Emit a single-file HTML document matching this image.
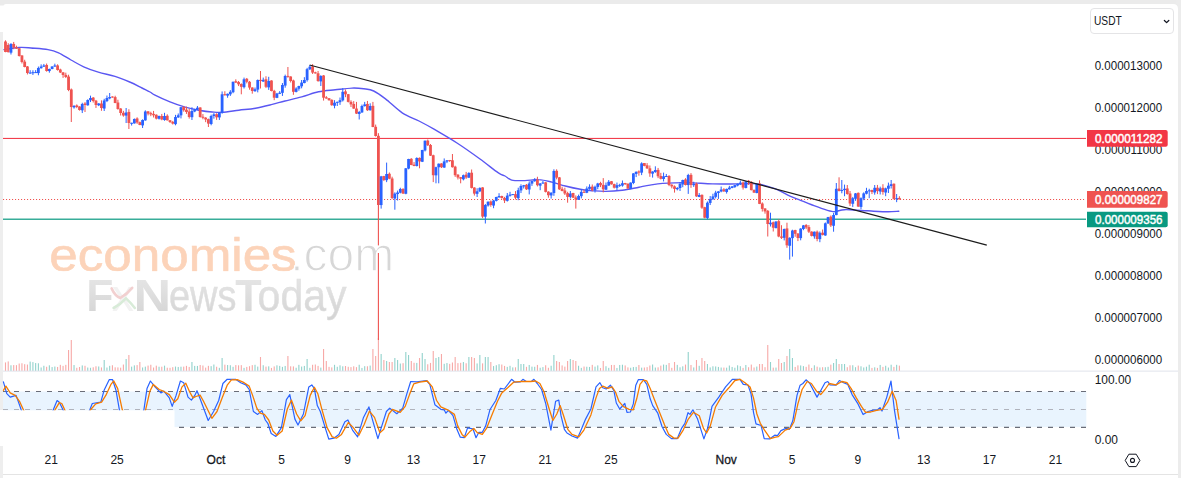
<!DOCTYPE html><html><head><meta charset="utf-8"><title>Chart</title><style>html,body{margin:0;padding:0;background:#fff;overflow:hidden}svg{display:block}</style></head><body><svg width="1181" height="478" viewBox="0 0 1181 478" font-family="'Liberation Sans', sans-serif">
<defs><linearGradient id="gg" x1="0" y1="0" x2="0" y2="1"><stop offset="0" stop-color="#e8e8e8"/><stop offset="1" stop-color="#d3d3d3"/></linearGradient></defs>
<rect x="0" y="0" width="1181" height="478" fill="#ffffff"/>
<rect x="0" y="0" width="1181" height="9" fill="#ebebeb"/>
<rect x="1176" y="0" width="5" height="478" fill="#ececec"/>
<path d="M0 5.5 L3.5 5.5 Q4 4 6 4 L1173 4 Q1178 4 1178 9 L1178 478 L0 478 Z" fill="#ffffff"/>
<rect x="0" y="32" width="3" height="378" fill="#eeeeee"/>
<rect x="0" y="446" width="3" height="32" fill="#eeeeee"/>
<defs><filter id="bl" x="-5%" y="-20%" width="110%" height="140%"><feGaussianBlur stdDeviation="0.55"/></filter><clipPath id="wmclip"><rect x="40" y="225" width="360" height="46.6"/></clipPath></defs>
<g filter="url(#bl)">
<g clip-path="url(#wmclip)">
<text y="270.9" font-size="48"><tspan x="49.3" font-size="46.5" textLength="247.4" lengthAdjust="spacingAndGlyphs" fill="#fcd3b9" stroke="#fcd3b9" stroke-width="0.6">economies</tspan><tspan x="290.3" textLength="103.9" lengthAdjust="spacingAndGlyphs" fill="#d7d7d7" stroke="#ffffff" stroke-width="1.3">.com</tspan></text>
</g>
<text y="311.3" font-size="44.5" fill="url(#gg)"><tspan x="86.3" font-weight="bold">F</tspan><tspan x="112" fill="#f2f2f2" textLength="22" lengthAdjust="spacingAndGlyphs">x</tspan><tspan x="133.4" font-weight="bold" textLength="37.6" lengthAdjust="spacingAndGlyphs">N</tspan><tspan x="169" textLength="67.5" lengthAdjust="spacingAndGlyphs" stroke="#dedede" stroke-width="0.5">ews</tspan><tspan x="235.2" font-weight="bold" textLength="26.4" lengthAdjust="spacingAndGlyphs">T</tspan><tspan x="257.6" textLength="89" lengthAdjust="spacingAndGlyphs" stroke="#dedede" stroke-width="0.5">oday</tspan></text>
<path d="M111.6 288.4 Q115 296 120.3 298 Q127 294 132.2 287.8" stroke="#f2d0d0" stroke-width="2.6" fill="none" stroke-linecap="round"/>
<path d="M113.6 308 Q121 304 126 298.4 Q131 303 134.8 308" stroke="#d8ebd8" stroke-width="2.6" fill="none" stroke-linecap="round"/>
</g>
<rect x="3" y="137.9" width="1083" height="1.05" fill="#f23645"/>
<line x1="3" y1="199.5" x2="1085" y2="199.5" stroke="#ef5350" stroke-width="1.2" stroke-dasharray="1.1 1.9"/>
<rect x="3" y="218.6" width="1083" height="1.2" fill="#089981"/>
<rect x="4.94" y="362.43" width="1.1" height="8.57" fill="#f7a9a7"/><rect x="7.68" y="361.42" width="1.1" height="9.58" fill="#f7a9a7"/><rect x="10.42" y="365.27" width="1.1" height="5.73" fill="#92d2cc"/><rect x="13.16" y="365.08" width="1.1" height="5.92" fill="#f7a9a7"/><rect x="15.90" y="365.15" width="1.1" height="5.85" fill="#f7a9a7"/><rect x="18.65" y="363.53" width="1.1" height="7.47" fill="#f7a9a7"/><rect x="21.39" y="363.26" width="1.1" height="7.74" fill="#f7a9a7"/><rect x="24.13" y="364.17" width="1.1" height="6.83" fill="#f7a9a7"/><rect x="26.87" y="364.55" width="1.1" height="6.45" fill="#f7a9a7"/><rect x="29.61" y="361.58" width="1.1" height="9.42" fill="#92d2cc"/><rect x="32.36" y="362.11" width="1.1" height="8.89" fill="#92d2cc"/><rect x="35.10" y="363.04" width="1.1" height="7.96" fill="#92d2cc"/><rect x="37.84" y="363.27" width="1.1" height="7.73" fill="#92d2cc"/><rect x="40.58" y="367.47" width="1.1" height="3.53" fill="#92d2cc"/><rect x="43.32" y="365.76" width="1.1" height="5.24" fill="#92d2cc"/><rect x="46.07" y="366.76" width="1.1" height="4.24" fill="#f7a9a7"/><rect x="48.81" y="365.31" width="1.1" height="5.69" fill="#92d2cc"/><rect x="51.55" y="367.06" width="1.1" height="3.94" fill="#92d2cc"/><rect x="54.29" y="366.53" width="1.1" height="4.47" fill="#92d2cc"/><rect x="57.03" y="366.96" width="1.1" height="4.04" fill="#f7a9a7"/><rect x="59.78" y="364.84" width="1.1" height="6.16" fill="#f7a9a7"/><rect x="62.52" y="365.84" width="1.1" height="5.16" fill="#f7a9a7"/><rect x="65.26" y="364.83" width="1.1" height="6.17" fill="#f7a9a7"/><rect x="68.00" y="350.00" width="1.1" height="21.00" fill="#f7a9a7"/><rect x="70.74" y="340.00" width="1.1" height="31.00" fill="#f7a9a7"/><rect x="73.49" y="365.04" width="1.1" height="5.96" fill="#92d2cc"/><rect x="76.23" y="367.79" width="1.1" height="3.21" fill="#f7a9a7"/><rect x="78.97" y="367.00" width="1.1" height="4.00" fill="#f7a9a7"/><rect x="81.71" y="365.41" width="1.1" height="5.59" fill="#92d2cc"/><rect x="84.45" y="365.79" width="1.1" height="5.21" fill="#f7a9a7"/><rect x="87.20" y="367.53" width="1.1" height="3.47" fill="#92d2cc"/><rect x="89.94" y="367.78" width="1.1" height="3.22" fill="#92d2cc"/><rect x="92.68" y="367.27" width="1.1" height="3.73" fill="#f7a9a7"/><rect x="95.42" y="366.28" width="1.1" height="4.72" fill="#f7a9a7"/><rect x="98.16" y="366.46" width="1.1" height="4.54" fill="#92d2cc"/><rect x="100.91" y="367.44" width="1.1" height="3.56" fill="#f7a9a7"/><rect x="103.65" y="360.00" width="1.1" height="11.00" fill="#92d2cc"/><rect x="106.39" y="367.52" width="1.1" height="3.48" fill="#92d2cc"/><rect x="109.13" y="365.82" width="1.1" height="5.18" fill="#92d2cc"/><rect x="111.87" y="365.24" width="1.1" height="5.76" fill="#f7a9a7"/><rect x="114.62" y="367.32" width="1.1" height="3.68" fill="#f7a9a7"/><rect x="117.36" y="367.39" width="1.1" height="3.61" fill="#f7a9a7"/><rect x="120.10" y="367.66" width="1.1" height="3.34" fill="#f7a9a7"/><rect x="122.84" y="364.53" width="1.1" height="6.47" fill="#f7a9a7"/><rect x="125.58" y="359.00" width="1.1" height="12.00" fill="#92d2cc"/><rect x="128.33" y="355.00" width="1.1" height="16.00" fill="#f7a9a7"/><rect x="131.07" y="366.65" width="1.1" height="4.35" fill="#92d2cc"/><rect x="133.81" y="365.37" width="1.1" height="5.63" fill="#92d2cc"/><rect x="136.55" y="365.07" width="1.1" height="5.93" fill="#f7a9a7"/><rect x="139.29" y="362.00" width="1.1" height="9.00" fill="#f7a9a7"/><rect x="142.04" y="367.46" width="1.1" height="3.54" fill="#92d2cc"/><rect x="144.78" y="366.64" width="1.1" height="4.36" fill="#92d2cc"/><rect x="147.52" y="365.57" width="1.1" height="5.43" fill="#f7a9a7"/><rect x="150.26" y="364.74" width="1.1" height="6.26" fill="#f7a9a7"/><rect x="153.00" y="367.52" width="1.1" height="3.48" fill="#f7a9a7"/><rect x="155.75" y="365.65" width="1.1" height="5.35" fill="#f7a9a7"/><rect x="158.49" y="366.74" width="1.1" height="4.26" fill="#92d2cc"/><rect x="161.23" y="366.71" width="1.1" height="4.29" fill="#f7a9a7"/><rect x="163.97" y="365.66" width="1.1" height="5.34" fill="#92d2cc"/><rect x="166.71" y="367.72" width="1.1" height="3.28" fill="#f7a9a7"/><rect x="169.46" y="367.81" width="1.1" height="3.19" fill="#f7a9a7"/><rect x="172.20" y="367.17" width="1.1" height="3.83" fill="#f7a9a7"/><rect x="174.94" y="366.56" width="1.1" height="4.44" fill="#92d2cc"/><rect x="177.68" y="366.95" width="1.1" height="4.05" fill="#92d2cc"/><rect x="180.42" y="366.71" width="1.1" height="4.29" fill="#92d2cc"/><rect x="183.17" y="366.61" width="1.1" height="4.39" fill="#f7a9a7"/><rect x="185.91" y="365.86" width="1.1" height="5.14" fill="#f7a9a7"/><rect x="188.65" y="366.92" width="1.1" height="4.08" fill="#f7a9a7"/><rect x="191.39" y="362.00" width="1.1" height="9.00" fill="#92d2cc"/><rect x="194.13" y="365.89" width="1.1" height="5.11" fill="#92d2cc"/><rect x="196.88" y="365.93" width="1.1" height="5.07" fill="#92d2cc"/><rect x="199.62" y="364.99" width="1.1" height="6.01" fill="#f7a9a7"/><rect x="202.36" y="365.50" width="1.1" height="5.50" fill="#f7a9a7"/><rect x="205.10" y="367.60" width="1.1" height="3.40" fill="#f7a9a7"/><rect x="207.84" y="365.83" width="1.1" height="5.17" fill="#f7a9a7"/><rect x="210.59" y="366.15" width="1.1" height="4.85" fill="#92d2cc"/><rect x="213.33" y="364.51" width="1.1" height="6.49" fill="#92d2cc"/><rect x="216.07" y="366.74" width="1.1" height="4.26" fill="#f7a9a7"/><rect x="218.81" y="367.82" width="1.1" height="3.18" fill="#92d2cc"/><rect x="221.55" y="358.00" width="1.1" height="13.00" fill="#92d2cc"/><rect x="224.30" y="364.65" width="1.1" height="6.35" fill="#f7a9a7"/><rect x="227.04" y="365.02" width="1.1" height="5.98" fill="#92d2cc"/><rect x="229.78" y="365.22" width="1.1" height="5.78" fill="#92d2cc"/><rect x="232.52" y="366.81" width="1.1" height="4.19" fill="#92d2cc"/><rect x="235.26" y="365.06" width="1.1" height="5.94" fill="#f7a9a7"/><rect x="238.01" y="365.30" width="1.1" height="5.70" fill="#f7a9a7"/><rect x="240.75" y="365.14" width="1.1" height="5.86" fill="#f7a9a7"/><rect x="243.49" y="367.87" width="1.1" height="3.13" fill="#92d2cc"/><rect x="246.23" y="366.91" width="1.1" height="4.09" fill="#f7a9a7"/><rect x="248.97" y="366.20" width="1.1" height="4.80" fill="#f7a9a7"/><rect x="251.72" y="365.14" width="1.1" height="5.86" fill="#f7a9a7"/><rect x="254.46" y="364.79" width="1.1" height="6.21" fill="#92d2cc"/><rect x="257.20" y="366.59" width="1.1" height="4.41" fill="#92d2cc"/><rect x="259.94" y="357.00" width="1.1" height="14.00" fill="#f7a9a7"/><rect x="262.68" y="365.23" width="1.1" height="5.77" fill="#92d2cc"/><rect x="265.43" y="366.62" width="1.1" height="4.38" fill="#f7a9a7"/><rect x="268.17" y="366.32" width="1.1" height="4.68" fill="#92d2cc"/><rect x="270.91" y="367.93" width="1.1" height="3.07" fill="#f7a9a7"/><rect x="273.65" y="366.41" width="1.1" height="4.59" fill="#f7a9a7"/><rect x="276.39" y="365.31" width="1.1" height="5.69" fill="#92d2cc"/><rect x="279.14" y="365.88" width="1.1" height="5.12" fill="#92d2cc"/><rect x="281.88" y="366.88" width="1.1" height="4.12" fill="#92d2cc"/><rect x="284.62" y="365.94" width="1.1" height="5.06" fill="#92d2cc"/><rect x="287.36" y="356.00" width="1.1" height="15.00" fill="#f7a9a7"/><rect x="290.10" y="366.30" width="1.1" height="4.70" fill="#f7a9a7"/><rect x="292.85" y="366.41" width="1.1" height="4.59" fill="#f7a9a7"/><rect x="295.59" y="367.75" width="1.1" height="3.25" fill="#92d2cc"/><rect x="298.33" y="364.83" width="1.1" height="6.17" fill="#92d2cc"/><rect x="301.07" y="366.56" width="1.1" height="4.44" fill="#92d2cc"/><rect x="303.81" y="365.93" width="1.1" height="5.07" fill="#92d2cc"/><rect x="306.56" y="359.00" width="1.1" height="12.00" fill="#92d2cc"/><rect x="309.30" y="367.83" width="1.1" height="3.17" fill="#92d2cc"/><rect x="312.04" y="364.77" width="1.1" height="6.23" fill="#f7a9a7"/><rect x="314.78" y="364.50" width="1.1" height="6.50" fill="#f7a9a7"/><rect x="317.52" y="365.87" width="1.1" height="5.13" fill="#f7a9a7"/><rect x="320.27" y="367.59" width="1.1" height="3.41" fill="#92d2cc"/><rect x="323.01" y="349.00" width="1.1" height="22.00" fill="#f7a9a7"/><rect x="325.75" y="361.00" width="1.1" height="10.00" fill="#f7a9a7"/><rect x="328.49" y="366.85" width="1.1" height="4.15" fill="#f7a9a7"/><rect x="331.23" y="367.41" width="1.1" height="3.59" fill="#f7a9a7"/><rect x="333.98" y="364.81" width="1.1" height="6.19" fill="#92d2cc"/><rect x="336.72" y="366.80" width="1.1" height="4.20" fill="#92d2cc"/><rect x="339.46" y="365.33" width="1.1" height="5.67" fill="#92d2cc"/><rect x="342.20" y="366.31" width="1.1" height="4.69" fill="#92d2cc"/><rect x="344.94" y="366.01" width="1.1" height="4.99" fill="#f7a9a7"/><rect x="347.69" y="366.77" width="1.1" height="4.23" fill="#f7a9a7"/><rect x="350.43" y="367.11" width="1.1" height="3.89" fill="#f7a9a7"/><rect x="353.17" y="366.32" width="1.1" height="4.68" fill="#f7a9a7"/><rect x="355.91" y="367.13" width="1.1" height="3.87" fill="#f7a9a7"/><rect x="358.65" y="364.75" width="1.1" height="6.25" fill="#92d2cc"/><rect x="361.40" y="367.94" width="1.1" height="3.06" fill="#92d2cc"/><rect x="364.14" y="366.18" width="1.1" height="4.82" fill="#92d2cc"/><rect x="366.88" y="366.29" width="1.1" height="4.71" fill="#f7a9a7"/><rect x="369.62" y="365.59" width="1.1" height="5.41" fill="#92d2cc"/><rect x="372.36" y="349.00" width="1.1" height="22.00" fill="#f7a9a7"/><rect x="375.11" y="356.00" width="1.1" height="15.00" fill="#f7a9a7"/><rect x="377.85" y="338.00" width="1.1" height="33.00" fill="#f7a9a7"/><rect x="380.59" y="354.00" width="1.1" height="17.00" fill="#92d2cc"/><rect x="383.33" y="360.00" width="1.1" height="11.00" fill="#f7a9a7"/><rect x="386.07" y="361.00" width="1.1" height="10.00" fill="#92d2cc"/><rect x="388.82" y="362.00" width="1.1" height="9.00" fill="#f7a9a7"/><rect x="391.56" y="362.00" width="1.1" height="9.00" fill="#f7a9a7"/><rect x="394.30" y="358.00" width="1.1" height="13.00" fill="#92d2cc"/><rect x="397.04" y="360.00" width="1.1" height="11.00" fill="#92d2cc"/><rect x="399.78" y="363.53" width="1.1" height="7.47" fill="#92d2cc"/><rect x="402.53" y="363.18" width="1.1" height="7.82" fill="#f7a9a7"/><rect x="405.27" y="352.00" width="1.1" height="19.00" fill="#92d2cc"/><rect x="408.01" y="355.00" width="1.1" height="16.00" fill="#92d2cc"/><rect x="410.75" y="361.00" width="1.1" height="10.00" fill="#f7a9a7"/><rect x="413.49" y="362.76" width="1.1" height="8.24" fill="#f7a9a7"/><rect x="416.24" y="362.91" width="1.1" height="8.09" fill="#92d2cc"/><rect x="418.98" y="358.00" width="1.1" height="13.00" fill="#f7a9a7"/><rect x="421.72" y="353.00" width="1.1" height="18.00" fill="#92d2cc"/><rect x="424.46" y="359.00" width="1.1" height="12.00" fill="#92d2cc"/><rect x="427.20" y="364.25" width="1.1" height="6.75" fill="#f7a9a7"/><rect x="429.95" y="362.92" width="1.1" height="8.08" fill="#f7a9a7"/><rect x="432.69" y="351.00" width="1.1" height="20.00" fill="#f7a9a7"/><rect x="435.43" y="358.00" width="1.1" height="13.00" fill="#92d2cc"/><rect x="438.17" y="357.00" width="1.1" height="14.00" fill="#92d2cc"/><rect x="440.91" y="354.00" width="1.1" height="17.00" fill="#f7a9a7"/><rect x="443.66" y="363.80" width="1.1" height="7.20" fill="#92d2cc"/><rect x="446.40" y="363.03" width="1.1" height="7.97" fill="#92d2cc"/><rect x="449.14" y="363.85" width="1.1" height="7.15" fill="#f7a9a7"/><rect x="451.88" y="362.50" width="1.1" height="8.50" fill="#f7a9a7"/><rect x="454.62" y="357.00" width="1.1" height="14.00" fill="#f7a9a7"/><rect x="457.37" y="363.08" width="1.1" height="7.92" fill="#f7a9a7"/><rect x="460.11" y="362.83" width="1.1" height="8.17" fill="#f7a9a7"/><rect x="462.85" y="362.03" width="1.1" height="8.97" fill="#92d2cc"/><rect x="465.59" y="363.24" width="1.1" height="7.76" fill="#f7a9a7"/><rect x="468.33" y="357.00" width="1.1" height="14.00" fill="#92d2cc"/><rect x="471.08" y="357.00" width="1.1" height="14.00" fill="#f7a9a7"/><rect x="473.82" y="358.00" width="1.1" height="13.00" fill="#f7a9a7"/><rect x="476.56" y="363.44" width="1.1" height="7.56" fill="#92d2cc"/><rect x="479.30" y="355.00" width="1.1" height="16.00" fill="#92d2cc"/><rect x="482.04" y="363.36" width="1.1" height="7.64" fill="#f7a9a7"/><rect x="484.79" y="357.00" width="1.1" height="14.00" fill="#92d2cc"/><rect x="487.53" y="357.00" width="1.1" height="14.00" fill="#92d2cc"/><rect x="490.27" y="362.00" width="1.1" height="9.00" fill="#f7a9a7"/><rect x="493.01" y="366.06" width="1.1" height="4.94" fill="#92d2cc"/><rect x="495.75" y="365.21" width="1.1" height="5.79" fill="#92d2cc"/><rect x="498.50" y="364.17" width="1.1" height="6.83" fill="#92d2cc"/><rect x="501.24" y="364.52" width="1.1" height="6.48" fill="#f7a9a7"/><rect x="503.98" y="365.92" width="1.1" height="5.08" fill="#f7a9a7"/><rect x="506.72" y="366.86" width="1.1" height="4.14" fill="#92d2cc"/><rect x="509.46" y="365.80" width="1.1" height="5.20" fill="#92d2cc"/><rect x="512.21" y="367.37" width="1.1" height="3.63" fill="#92d2cc"/><rect x="514.95" y="367.31" width="1.1" height="3.69" fill="#f7a9a7"/><rect x="517.69" y="359.00" width="1.1" height="12.00" fill="#92d2cc"/><rect x="520.43" y="364.00" width="1.1" height="7.00" fill="#92d2cc"/><rect x="523.17" y="364.00" width="1.1" height="7.00" fill="#92d2cc"/><rect x="525.92" y="366.83" width="1.1" height="4.17" fill="#f7a9a7"/><rect x="528.66" y="364.95" width="1.1" height="6.05" fill="#92d2cc"/><rect x="531.40" y="366.63" width="1.1" height="4.37" fill="#92d2cc"/><rect x="534.14" y="366.77" width="1.1" height="4.23" fill="#92d2cc"/><rect x="536.88" y="364.92" width="1.1" height="6.08" fill="#f7a9a7"/><rect x="539.63" y="367.73" width="1.1" height="3.27" fill="#92d2cc"/><rect x="542.37" y="367.10" width="1.1" height="3.90" fill="#92d2cc"/><rect x="545.11" y="365.24" width="1.1" height="5.76" fill="#f7a9a7"/><rect x="547.85" y="367.77" width="1.1" height="3.23" fill="#f7a9a7"/><rect x="550.59" y="365.73" width="1.1" height="5.27" fill="#92d2cc"/><rect x="553.34" y="355.00" width="1.1" height="16.00" fill="#92d2cc"/><rect x="556.08" y="361.00" width="1.1" height="10.00" fill="#f7a9a7"/><rect x="558.82" y="362.00" width="1.1" height="9.00" fill="#f7a9a7"/><rect x="561.56" y="365.41" width="1.1" height="5.59" fill="#f7a9a7"/><rect x="564.30" y="366.63" width="1.1" height="4.37" fill="#f7a9a7"/><rect x="567.05" y="361.00" width="1.1" height="10.00" fill="#f7a9a7"/><rect x="569.79" y="359.00" width="1.1" height="12.00" fill="#92d2cc"/><rect x="572.53" y="360.00" width="1.1" height="11.00" fill="#f7a9a7"/><rect x="575.27" y="361.00" width="1.1" height="10.00" fill="#f7a9a7"/><rect x="578.01" y="365.75" width="1.1" height="5.25" fill="#92d2cc"/><rect x="580.76" y="367.87" width="1.1" height="3.13" fill="#92d2cc"/><rect x="583.50" y="366.54" width="1.1" height="4.46" fill="#f7a9a7"/><rect x="586.24" y="366.74" width="1.1" height="4.26" fill="#92d2cc"/><rect x="588.98" y="366.94" width="1.1" height="4.06" fill="#92d2cc"/><rect x="591.72" y="364.85" width="1.1" height="6.15" fill="#f7a9a7"/><rect x="594.47" y="366.62" width="1.1" height="4.38" fill="#92d2cc"/><rect x="597.21" y="365.39" width="1.1" height="5.61" fill="#92d2cc"/><rect x="599.95" y="367.95" width="1.1" height="3.05" fill="#f7a9a7"/><rect x="602.69" y="361.00" width="1.1" height="10.00" fill="#f7a9a7"/><rect x="605.43" y="366.21" width="1.1" height="4.79" fill="#92d2cc"/><rect x="608.18" y="367.84" width="1.1" height="3.16" fill="#92d2cc"/><rect x="610.92" y="364.95" width="1.1" height="6.05" fill="#f7a9a7"/><rect x="613.66" y="364.93" width="1.1" height="6.07" fill="#f7a9a7"/><rect x="616.40" y="367.95" width="1.1" height="3.05" fill="#92d2cc"/><rect x="619.14" y="364.97" width="1.1" height="6.03" fill="#92d2cc"/><rect x="621.89" y="364.73" width="1.1" height="6.27" fill="#92d2cc"/><rect x="624.63" y="365.43" width="1.1" height="5.57" fill="#f7a9a7"/><rect x="627.37" y="367.37" width="1.1" height="3.63" fill="#f7a9a7"/><rect x="630.11" y="367.74" width="1.1" height="3.26" fill="#92d2cc"/><rect x="632.85" y="367.05" width="1.1" height="3.95" fill="#92d2cc"/><rect x="635.60" y="366.88" width="1.1" height="4.12" fill="#92d2cc"/><rect x="638.34" y="365.02" width="1.1" height="5.98" fill="#f7a9a7"/><rect x="641.08" y="367.65" width="1.1" height="3.35" fill="#92d2cc"/><rect x="643.82" y="367.48" width="1.1" height="3.52" fill="#f7a9a7"/><rect x="646.56" y="367.12" width="1.1" height="3.88" fill="#f7a9a7"/><rect x="649.31" y="365.51" width="1.1" height="5.49" fill="#f7a9a7"/><rect x="652.05" y="364.50" width="1.1" height="6.50" fill="#92d2cc"/><rect x="654.79" y="367.53" width="1.1" height="3.47" fill="#92d2cc"/><rect x="657.53" y="367.32" width="1.1" height="3.68" fill="#f7a9a7"/><rect x="660.27" y="365.64" width="1.1" height="5.36" fill="#f7a9a7"/><rect x="663.02" y="364.53" width="1.1" height="6.47" fill="#92d2cc"/><rect x="665.76" y="364.86" width="1.1" height="6.14" fill="#92d2cc"/><rect x="668.50" y="363.00" width="1.1" height="8.00" fill="#f7a9a7"/><rect x="671.24" y="367.82" width="1.1" height="3.18" fill="#f7a9a7"/><rect x="673.98" y="362.00" width="1.1" height="9.00" fill="#f7a9a7"/><rect x="676.73" y="364.86" width="1.1" height="6.14" fill="#92d2cc"/><rect x="679.47" y="367.31" width="1.1" height="3.69" fill="#92d2cc"/><rect x="682.21" y="366.32" width="1.1" height="4.68" fill="#92d2cc"/><rect x="684.95" y="364.56" width="1.1" height="6.44" fill="#f7a9a7"/><rect x="687.69" y="352.00" width="1.1" height="19.00" fill="#92d2cc"/><rect x="690.44" y="364.95" width="1.1" height="6.05" fill="#f7a9a7"/><rect x="693.18" y="367.43" width="1.1" height="3.57" fill="#92d2cc"/><rect x="695.92" y="360.00" width="1.1" height="11.00" fill="#f7a9a7"/><rect x="698.66" y="365.80" width="1.1" height="5.20" fill="#92d2cc"/><rect x="701.40" y="358.00" width="1.1" height="13.00" fill="#f7a9a7"/><rect x="704.15" y="361.00" width="1.1" height="10.00" fill="#f7a9a7"/><rect x="706.89" y="364.00" width="1.1" height="7.00" fill="#92d2cc"/><rect x="709.63" y="367.42" width="1.1" height="3.58" fill="#92d2cc"/><rect x="712.37" y="366.29" width="1.1" height="4.71" fill="#92d2cc"/><rect x="715.11" y="366.44" width="1.1" height="4.56" fill="#92d2cc"/><rect x="717.86" y="366.92" width="1.1" height="4.08" fill="#92d2cc"/><rect x="720.60" y="367.53" width="1.1" height="3.47" fill="#92d2cc"/><rect x="723.34" y="367.57" width="1.1" height="3.43" fill="#f7a9a7"/><rect x="726.08" y="367.67" width="1.1" height="3.33" fill="#92d2cc"/><rect x="728.82" y="365.51" width="1.1" height="5.49" fill="#92d2cc"/><rect x="731.57" y="366.94" width="1.1" height="4.06" fill="#92d2cc"/><rect x="734.31" y="367.73" width="1.1" height="3.27" fill="#92d2cc"/><rect x="737.05" y="365.30" width="1.1" height="5.70" fill="#92d2cc"/><rect x="739.79" y="366.18" width="1.1" height="4.82" fill="#92d2cc"/><rect x="742.53" y="367.89" width="1.1" height="3.11" fill="#f7a9a7"/><rect x="745.28" y="364.97" width="1.1" height="6.03" fill="#92d2cc"/><rect x="748.02" y="367.22" width="1.1" height="3.78" fill="#f7a9a7"/><rect x="750.76" y="364.57" width="1.1" height="6.43" fill="#f7a9a7"/><rect x="753.50" y="367.45" width="1.1" height="3.55" fill="#f7a9a7"/><rect x="756.24" y="366.55" width="1.1" height="4.45" fill="#92d2cc"/><rect x="758.99" y="364.00" width="1.1" height="7.00" fill="#f7a9a7"/><rect x="761.73" y="364.00" width="1.1" height="7.00" fill="#f7a9a7"/><rect x="764.47" y="367.16" width="1.1" height="3.84" fill="#f7a9a7"/><rect x="767.21" y="345.00" width="1.1" height="26.00" fill="#f7a9a7"/><rect x="769.95" y="362.00" width="1.1" height="9.00" fill="#92d2cc"/><rect x="772.70" y="367.63" width="1.1" height="3.37" fill="#f7a9a7"/><rect x="775.44" y="367.57" width="1.1" height="3.43" fill="#92d2cc"/><rect x="778.18" y="359.00" width="1.1" height="12.00" fill="#f7a9a7"/><rect x="780.92" y="363.00" width="1.1" height="8.00" fill="#f7a9a7"/><rect x="783.66" y="362.00" width="1.1" height="9.00" fill="#92d2cc"/><rect x="786.41" y="356.00" width="1.1" height="15.00" fill="#f7a9a7"/><rect x="789.15" y="349.00" width="1.1" height="22.00" fill="#92d2cc"/><rect x="791.89" y="358.00" width="1.1" height="13.00" fill="#92d2cc"/><rect x="794.63" y="366.93" width="1.1" height="4.07" fill="#f7a9a7"/><rect x="797.37" y="365.35" width="1.1" height="5.65" fill="#f7a9a7"/><rect x="800.12" y="365.44" width="1.1" height="5.56" fill="#92d2cc"/><rect x="802.86" y="366.12" width="1.1" height="4.88" fill="#92d2cc"/><rect x="805.60" y="366.84" width="1.1" height="4.16" fill="#f7a9a7"/><rect x="808.34" y="364.53" width="1.1" height="6.47" fill="#f7a9a7"/><rect x="811.08" y="367.96" width="1.1" height="3.04" fill="#f7a9a7"/><rect x="813.83" y="365.29" width="1.1" height="5.71" fill="#92d2cc"/><rect x="816.57" y="366.66" width="1.1" height="4.34" fill="#f7a9a7"/><rect x="819.31" y="367.44" width="1.1" height="3.56" fill="#92d2cc"/><rect x="822.05" y="367.21" width="1.1" height="3.79" fill="#f7a9a7"/><rect x="824.79" y="367.22" width="1.1" height="3.78" fill="#92d2cc"/><rect x="827.54" y="366.80" width="1.1" height="4.20" fill="#92d2cc"/><rect x="830.28" y="364.65" width="1.1" height="6.35" fill="#f7a9a7"/><rect x="833.02" y="363.00" width="1.1" height="8.00" fill="#92d2cc"/><rect x="835.76" y="359.00" width="1.1" height="12.00" fill="#92d2cc"/><rect x="838.50" y="364.00" width="1.1" height="7.00" fill="#f7a9a7"/><rect x="841.25" y="364.00" width="1.1" height="7.00" fill="#92d2cc"/><rect x="843.99" y="364.00" width="1.1" height="7.00" fill="#92d2cc"/><rect x="846.73" y="367.20" width="1.1" height="3.80" fill="#f7a9a7"/><rect x="849.47" y="365.30" width="1.1" height="5.70" fill="#f7a9a7"/><rect x="852.21" y="365.24" width="1.1" height="5.76" fill="#92d2cc"/><rect x="854.96" y="367.19" width="1.1" height="3.81" fill="#92d2cc"/><rect x="857.70" y="365.56" width="1.1" height="5.44" fill="#f7a9a7"/><rect x="860.44" y="366.29" width="1.1" height="4.71" fill="#92d2cc"/><rect x="863.18" y="367.45" width="1.1" height="3.55" fill="#92d2cc"/><rect x="865.92" y="366.70" width="1.1" height="4.30" fill="#92d2cc"/><rect x="868.67" y="364.72" width="1.1" height="6.28" fill="#92d2cc"/><rect x="871.41" y="367.91" width="1.1" height="3.09" fill="#f7a9a7"/><rect x="874.15" y="367.31" width="1.1" height="3.69" fill="#92d2cc"/><rect x="876.89" y="367.88" width="1.1" height="3.12" fill="#f7a9a7"/><rect x="879.63" y="364.92" width="1.1" height="6.08" fill="#92d2cc"/><rect x="882.38" y="366.89" width="1.1" height="4.11" fill="#f7a9a7"/><rect x="885.12" y="365.75" width="1.1" height="5.25" fill="#92d2cc"/><rect x="887.86" y="367.54" width="1.1" height="3.46" fill="#92d2cc"/><rect x="890.60" y="364.71" width="1.1" height="6.29" fill="#92d2cc"/><rect x="893.34" y="366.90" width="1.1" height="4.10" fill="#f7a9a7"/><rect x="896.09" y="364.81" width="1.1" height="6.19" fill="#92d2cc"/><rect x="898.83" y="365.61" width="1.1" height="5.39" fill="#f7a9a7"/>
<path d="M4.0 49.6 C6.5 49.2 14.5 47.8 19.0 47.5 C23.5 47.2 26.2 47.6 31.0 48.0 C35.8 48.4 43.4 48.8 48.0 49.6 C52.6 50.4 54.8 51.1 58.6 52.8 C62.4 54.5 66.8 57.7 71.0 60.0 C75.2 62.3 79.2 64.8 83.7 66.8 C88.2 68.8 93.1 70.6 98.3 72.2 C103.5 73.8 109.8 74.8 115.0 76.4 C120.2 78.0 125.2 80.1 129.7 82.0 C134.2 83.9 138.6 86.3 142.0 88.0 C145.4 89.7 147.8 90.8 150.0 92.0 C152.2 93.2 151.7 93.5 155.0 95.2 C158.3 96.9 165.0 99.9 170.0 101.9 C175.0 103.9 180.4 105.8 185.2 107.2 C190.0 108.6 194.1 109.4 198.6 110.2 C203.1 111.0 208.1 111.7 212.0 112.0 C215.9 112.3 217.5 112.6 222.0 112.3 C226.5 112.0 233.2 110.9 238.8 110.2 C244.4 109.5 249.9 109.2 255.5 108.2 C261.1 107.2 267.3 105.6 272.2 104.4 C277.1 103.2 280.1 102.2 285.0 101.0 C289.9 99.8 296.1 98.4 301.7 96.9 C307.3 95.4 312.9 93.0 318.5 91.8 C324.1 90.6 329.6 90.4 335.2 89.8 C340.8 89.2 347.2 88.3 352.0 88.1 C356.8 87.9 360.1 88.3 363.7 88.8 C367.3 89.3 370.1 89.3 373.7 91.0 C377.3 92.7 380.8 95.3 385.5 98.9 C390.2 102.5 396.6 109.1 402.2 112.8 C407.8 116.5 413.7 118.3 419.0 121.0 C424.3 123.7 427.7 125.5 434.0 129.2 C440.3 132.9 449.3 138.0 457.0 143.0 C464.7 148.0 473.1 154.0 480.0 159.0 C486.9 164.0 494.2 170.1 498.4 172.9 C502.6 175.7 502.8 174.8 505.0 176.0 C507.2 177.2 508.4 179.3 511.7 180.1 C515.0 180.9 520.5 180.7 525.0 180.6 C529.5 180.5 534.0 179.3 538.5 179.6 C543.0 179.8 547.4 181.0 551.9 182.1 C556.4 183.2 560.6 184.8 565.3 186.0 C570.0 187.2 575.8 188.5 580.3 189.3 C584.8 190.1 587.8 190.3 592.0 190.7 C596.2 191.0 600.5 191.5 605.5 191.4 C610.5 191.3 616.6 190.9 622.2 190.2 C627.8 189.5 634.4 188.0 639.0 187.2 C643.6 186.3 646.1 185.7 650.0 185.1 C653.9 184.5 656.2 183.8 662.5 183.4 C668.8 183.0 679.2 182.5 687.6 182.6 C696.0 182.7 704.3 183.7 712.7 183.9 C721.1 184.1 730.3 183.9 737.8 183.9 C745.3 183.9 751.6 183.1 757.9 183.9 C764.2 184.7 770.0 186.9 775.4 188.9 C780.8 190.9 785.8 194.3 790.0 196.2 C794.2 198.1 797.0 198.9 800.5 200.3 C804.0 201.7 807.5 203.2 811.0 204.5 C814.5 205.8 817.9 207.2 821.4 208.3 C824.9 209.5 829.4 210.9 831.8 211.4 C834.2 211.9 833.9 211.7 836.0 211.4 C838.1 211.1 840.9 209.9 844.4 209.7 C847.9 209.5 852.1 209.9 857.0 210.2 C861.9 210.4 868.5 210.9 873.7 211.2 C878.9 211.5 884.1 211.8 888.3 211.8 C892.5 211.8 897.0 211.3 898.8 211.2" fill="none" stroke="#5a57f2" stroke-width="1.4" stroke-linejoin="round" stroke-linecap="round"/>
<rect x="4.99" y="40.30" width="1" height="11.95" fill="#ef5350"/><rect x="4.09" y="41.50" width="2.8" height="10.50" fill="#ef5350"/><rect x="7.73" y="43.20" width="1" height="9.21" fill="#ef5350"/><rect x="6.83" y="45.00" width="2.8" height="7.20" fill="#ef5350"/><rect x="10.47" y="43.12" width="1" height="11.38" fill="#2962ff"/><rect x="9.57" y="44.00" width="2.8" height="8.67" fill="#2962ff"/><rect x="13.21" y="41.92" width="1" height="7.32" fill="#ef5350"/><rect x="12.31" y="43.89" width="2.8" height="3.61" fill="#ef5350"/><rect x="15.95" y="45.66" width="1" height="3.23" fill="#ef5350"/><rect x="15.05" y="47.21" width="2.8" height="1.39" fill="#ef5350"/><rect x="18.70" y="47.92" width="1" height="8.63" fill="#ef5350"/><rect x="17.80" y="48.33" width="2.8" height="7.67" fill="#ef5350"/><rect x="21.44" y="55.17" width="1" height="8.28" fill="#ef5350"/><rect x="20.54" y="55.47" width="2.8" height="6.53" fill="#ef5350"/><rect x="24.18" y="59.75" width="1" height="7.61" fill="#ef5350"/><rect x="23.28" y="61.62" width="2.8" height="5.38" fill="#ef5350"/><rect x="26.92" y="66.02" width="1" height="8.42" fill="#ef5350"/><rect x="26.02" y="66.44" width="2.8" height="6.56" fill="#ef5350"/><rect x="29.66" y="70.17" width="1" height="3.57" fill="#2962ff"/><rect x="28.76" y="72.56" width="2.8" height="1.00" fill="#2962ff"/><rect x="32.41" y="70.25" width="1" height="4.70" fill="#2962ff"/><rect x="31.51" y="72.20" width="2.8" height="1.00" fill="#2962ff"/><rect x="35.15" y="70.11" width="1" height="2.80" fill="#2962ff"/><rect x="34.25" y="72.10" width="2.8" height="1.00" fill="#2962ff"/><rect x="37.89" y="66.55" width="1" height="8.71" fill="#2962ff"/><rect x="36.99" y="68.00" width="2.8" height="5.09" fill="#2962ff"/><rect x="40.63" y="64.36" width="1" height="4.20" fill="#2962ff"/><rect x="39.73" y="66.50" width="2.8" height="1.74" fill="#2962ff"/><rect x="43.37" y="63.93" width="1" height="3.03" fill="#2962ff"/><rect x="42.47" y="65.50" width="2.8" height="1.17" fill="#2962ff"/><rect x="46.12" y="63.53" width="1" height="8.14" fill="#ef5350"/><rect x="45.22" y="64.97" width="2.8" height="6.03" fill="#ef5350"/><rect x="48.86" y="68.60" width="1" height="4.08" fill="#2962ff"/><rect x="47.96" y="69.00" width="2.8" height="2.07" fill="#2962ff"/><rect x="51.60" y="66.20" width="1" height="3.04" fill="#2962ff"/><rect x="50.70" y="66.50" width="2.8" height="2.53" fill="#2962ff"/><rect x="54.34" y="63.66" width="1" height="3.15" fill="#2962ff"/><rect x="53.44" y="65.50" width="2.8" height="1.09" fill="#2962ff"/><rect x="57.08" y="64.28" width="1" height="6.32" fill="#ef5350"/><rect x="56.18" y="65.43" width="2.8" height="4.57" fill="#ef5350"/><rect x="59.83" y="68.69" width="1" height="4.34" fill="#ef5350"/><rect x="58.93" y="69.51" width="2.8" height="2.99" fill="#ef5350"/><rect x="62.57" y="71.96" width="1" height="5.90" fill="#ef5350"/><rect x="61.67" y="72.38" width="2.8" height="2.62" fill="#ef5350"/><rect x="65.31" y="72.65" width="1" height="5.41" fill="#ef5350"/><rect x="64.41" y="74.89" width="2.8" height="2.11" fill="#ef5350"/><rect x="68.05" y="74.69" width="1" height="16.48" fill="#ef5350"/><rect x="67.15" y="76.59" width="2.8" height="13.41" fill="#ef5350"/><rect x="70.79" y="88.48" width="1" height="33.52" fill="#ef5350"/><rect x="69.89" y="89.44" width="2.8" height="17.56" fill="#ef5350"/><rect x="73.54" y="104.98" width="1" height="3.62" fill="#2962ff"/><rect x="72.64" y="106.00" width="2.8" height="1.40" fill="#2962ff"/><rect x="76.28" y="104.40" width="1" height="3.77" fill="#ef5350"/><rect x="75.38" y="105.41" width="2.8" height="1.59" fill="#ef5350"/><rect x="79.02" y="106.28" width="1" height="4.35" fill="#ef5350"/><rect x="78.12" y="106.48" width="2.8" height="3.52" fill="#ef5350"/><rect x="81.76" y="102.75" width="1" height="10.29" fill="#2962ff"/><rect x="80.86" y="104.00" width="2.8" height="6.32" fill="#2962ff"/><rect x="84.50" y="102.13" width="1" height="9.87" fill="#ef5350"/><rect x="83.60" y="103.45" width="2.8" height="1.55" fill="#ef5350"/><rect x="87.25" y="99.32" width="1" height="6.32" fill="#2962ff"/><rect x="86.35" y="100.00" width="2.8" height="5.32" fill="#2962ff"/><rect x="89.99" y="95.64" width="1" height="6.43" fill="#2962ff"/><rect x="89.09" y="98.00" width="2.8" height="2.19" fill="#2962ff"/><rect x="92.73" y="97.04" width="1" height="5.49" fill="#ef5350"/><rect x="91.83" y="97.59" width="2.8" height="3.41" fill="#ef5350"/><rect x="95.47" y="99.94" width="1" height="8.01" fill="#ef5350"/><rect x="94.57" y="100.68" width="2.8" height="4.32" fill="#ef5350"/><rect x="98.21" y="103.13" width="1" height="2.97" fill="#2962ff"/><rect x="97.31" y="103.50" width="2.8" height="1.78" fill="#2962ff"/><rect x="100.96" y="100.35" width="1" height="10.42" fill="#ef5350"/><rect x="100.06" y="103.48" width="2.8" height="4.52" fill="#ef5350"/><rect x="103.70" y="98.79" width="1" height="12.21" fill="#2962ff"/><rect x="102.80" y="100.50" width="2.8" height="8.04" fill="#2962ff"/><rect x="106.44" y="95.55" width="1" height="6.54" fill="#2962ff"/><rect x="105.54" y="98.00" width="2.8" height="3.06" fill="#2962ff"/><rect x="109.18" y="93.00" width="1" height="6.31" fill="#2962ff"/><rect x="108.28" y="97.00" width="2.8" height="1.37" fill="#2962ff"/><rect x="111.92" y="96.33" width="1" height="1.40" fill="#ef5350"/><rect x="111.02" y="96.52" width="2.8" height="1.00" fill="#ef5350"/><rect x="114.67" y="95.74" width="1" height="7.48" fill="#ef5350"/><rect x="113.77" y="97.13" width="2.8" height="5.87" fill="#ef5350"/><rect x="117.41" y="99.72" width="1" height="9.98" fill="#ef5350"/><rect x="116.51" y="102.54" width="2.8" height="6.46" fill="#ef5350"/><rect x="120.15" y="108.15" width="1" height="7.36" fill="#ef5350"/><rect x="119.25" y="108.51" width="2.8" height="4.49" fill="#ef5350"/><rect x="122.89" y="110.85" width="1" height="5.84" fill="#ef5350"/><rect x="121.99" y="112.81" width="2.8" height="2.69" fill="#ef5350"/><rect x="125.63" y="108.00" width="1" height="15.00" fill="#2962ff"/><rect x="124.73" y="112.50" width="2.8" height="3.10" fill="#2962ff"/><rect x="128.38" y="109.24" width="1" height="19.76" fill="#ef5350"/><rect x="127.48" y="111.93" width="2.8" height="11.07" fill="#ef5350"/><rect x="131.12" y="122.70" width="1" height="2.86" fill="#2962ff"/><rect x="130.22" y="122.80" width="2.8" height="1.00" fill="#2962ff"/><rect x="133.86" y="118.45" width="1" height="5.15" fill="#2962ff"/><rect x="132.96" y="119.00" width="2.8" height="4.39" fill="#2962ff"/><rect x="136.60" y="117.29" width="1" height="6.60" fill="#ef5350"/><rect x="135.70" y="118.44" width="2.8" height="4.06" fill="#ef5350"/><rect x="139.34" y="121.54" width="1" height="3.66" fill="#ef5350"/><rect x="138.44" y="122.15" width="2.8" height="2.85" fill="#ef5350"/><rect x="142.09" y="119.31" width="1" height="8.69" fill="#2962ff"/><rect x="141.19" y="120.00" width="2.8" height="5.40" fill="#2962ff"/><rect x="144.83" y="110.32" width="1" height="10.37" fill="#2962ff"/><rect x="143.93" y="111.50" width="2.8" height="8.88" fill="#2962ff"/><rect x="147.57" y="111.12" width="1" height="4.27" fill="#ef5350"/><rect x="146.67" y="111.36" width="2.8" height="2.24" fill="#ef5350"/><rect x="150.31" y="111.71" width="1" height="4.46" fill="#ef5350"/><rect x="149.41" y="113.13" width="2.8" height="1.27" fill="#ef5350"/><rect x="153.05" y="110.91" width="1" height="6.57" fill="#ef5350"/><rect x="152.15" y="113.88" width="2.8" height="1.42" fill="#ef5350"/><rect x="155.80" y="114.35" width="1" height="5.09" fill="#ef5350"/><rect x="154.90" y="114.73" width="2.8" height="3.87" fill="#ef5350"/><rect x="158.54" y="115.59" width="1" height="3.94" fill="#2962ff"/><rect x="157.64" y="116.00" width="2.8" height="2.76" fill="#2962ff"/><rect x="161.28" y="113.93" width="1" height="6.32" fill="#ef5350"/><rect x="160.38" y="115.97" width="2.8" height="3.53" fill="#ef5350"/><rect x="164.02" y="112.80" width="1" height="7.94" fill="#2962ff"/><rect x="163.12" y="116.00" width="2.8" height="4.02" fill="#2962ff"/><rect x="166.76" y="114.30" width="1" height="6.23" fill="#ef5350"/><rect x="165.86" y="115.72" width="2.8" height="4.58" fill="#ef5350"/><rect x="169.51" y="120.03" width="1" height="2.93" fill="#ef5350"/><rect x="168.61" y="120.24" width="2.8" height="1.76" fill="#ef5350"/><rect x="172.25" y="120.92" width="1" height="3.59" fill="#ef5350"/><rect x="171.35" y="121.87" width="2.8" height="1.73" fill="#ef5350"/><rect x="174.99" y="114.84" width="1" height="10.46" fill="#2962ff"/><rect x="174.09" y="117.00" width="2.8" height="7.13" fill="#2962ff"/><rect x="177.73" y="113.46" width="1" height="4.36" fill="#2962ff"/><rect x="176.83" y="115.30" width="2.8" height="2.15" fill="#2962ff"/><rect x="180.47" y="106.98" width="1" height="11.43" fill="#2962ff"/><rect x="179.57" y="107.20" width="2.8" height="8.14" fill="#2962ff"/><rect x="183.22" y="106.17" width="1" height="5.49" fill="#ef5350"/><rect x="182.32" y="106.94" width="2.8" height="3.26" fill="#ef5350"/><rect x="185.96" y="106.58" width="1" height="7.32" fill="#ef5350"/><rect x="185.06" y="109.69" width="2.8" height="2.31" fill="#ef5350"/><rect x="188.70" y="108.83" width="1" height="9.77" fill="#ef5350"/><rect x="187.80" y="111.50" width="2.8" height="5.50" fill="#ef5350"/><rect x="191.44" y="107.20" width="1" height="12.80" fill="#2962ff"/><rect x="190.54" y="111.00" width="2.8" height="6.21" fill="#2962ff"/><rect x="194.18" y="108.83" width="1" height="3.38" fill="#2962ff"/><rect x="193.28" y="109.40" width="2.8" height="2.05" fill="#2962ff"/><rect x="196.93" y="106.00" width="1" height="3.90" fill="#2962ff"/><rect x="196.03" y="107.70" width="2.8" height="1.95" fill="#2962ff"/><rect x="199.67" y="107.24" width="1" height="10.39" fill="#ef5350"/><rect x="198.77" y="107.46" width="2.8" height="9.54" fill="#ef5350"/><rect x="202.41" y="114.04" width="1" height="5.22" fill="#ef5350"/><rect x="201.51" y="116.73" width="2.8" height="1.07" fill="#ef5350"/><rect x="205.15" y="117.16" width="1" height="4.99" fill="#ef5350"/><rect x="204.25" y="117.62" width="2.8" height="1.88" fill="#ef5350"/><rect x="207.89" y="118.58" width="1" height="8.42" fill="#ef5350"/><rect x="206.99" y="119.13" width="2.8" height="4.47" fill="#ef5350"/><rect x="210.64" y="114.66" width="1" height="10.64" fill="#2962ff"/><rect x="209.74" y="116.00" width="2.8" height="8.00" fill="#2962ff"/><rect x="213.38" y="113.14" width="1" height="5.52" fill="#2962ff"/><rect x="212.48" y="114.40" width="2.8" height="1.62" fill="#2962ff"/><rect x="216.12" y="113.26" width="1" height="6.65" fill="#ef5350"/><rect x="215.22" y="114.25" width="2.8" height="3.05" fill="#ef5350"/><rect x="218.86" y="112.36" width="1" height="7.59" fill="#2962ff"/><rect x="217.96" y="112.80" width="2.8" height="4.62" fill="#2962ff"/><rect x="221.60" y="91.45" width="1" height="22.27" fill="#2962ff"/><rect x="220.70" y="94.30" width="2.8" height="18.50" fill="#2962ff"/><rect x="224.35" y="91.25" width="1" height="4.39" fill="#ef5350"/><rect x="223.45" y="94.19" width="2.8" height="1.01" fill="#ef5350"/><rect x="227.09" y="93.54" width="1" height="4.20" fill="#2962ff"/><rect x="226.19" y="93.80" width="2.8" height="1.82" fill="#2962ff"/><rect x="229.83" y="90.13" width="1" height="5.79" fill="#2962ff"/><rect x="228.93" y="91.80" width="2.8" height="2.53" fill="#2962ff"/><rect x="232.57" y="81.58" width="1" height="11.63" fill="#2962ff"/><rect x="231.67" y="81.80" width="2.8" height="10.41" fill="#2962ff"/><rect x="235.31" y="79.30" width="1" height="3.73" fill="#ef5350"/><rect x="234.41" y="81.21" width="2.8" height="1.39" fill="#ef5350"/><rect x="238.06" y="80.98" width="1" height="5.07" fill="#ef5350"/><rect x="237.16" y="82.03" width="2.8" height="2.27" fill="#ef5350"/><rect x="240.80" y="83.33" width="1" height="10.97" fill="#ef5350"/><rect x="239.90" y="84.01" width="2.8" height="2.79" fill="#ef5350"/><rect x="243.54" y="77.60" width="1" height="10.91" fill="#2962ff"/><rect x="242.64" y="79.30" width="2.8" height="7.88" fill="#2962ff"/><rect x="246.28" y="77.97" width="1" height="5.38" fill="#ef5350"/><rect x="245.38" y="78.77" width="2.8" height="3.03" fill="#ef5350"/><rect x="249.02" y="80.95" width="1" height="8.74" fill="#ef5350"/><rect x="248.12" y="81.80" width="2.8" height="5.80" fill="#ef5350"/><rect x="251.77" y="87.30" width="1" height="6.38" fill="#ef5350"/><rect x="250.87" y="87.50" width="2.8" height="3.50" fill="#ef5350"/><rect x="254.51" y="87.51" width="1" height="4.20" fill="#2962ff"/><rect x="253.61" y="89.30" width="2.8" height="1.93" fill="#2962ff"/><rect x="257.25" y="79.47" width="1" height="12.90" fill="#2962ff"/><rect x="256.35" y="80.00" width="2.8" height="9.61" fill="#2962ff"/><rect x="259.99" y="71.00" width="1" height="17.50" fill="#ef5350"/><rect x="259.09" y="79.87" width="2.8" height="1.13" fill="#ef5350"/><rect x="262.73" y="77.58" width="1" height="4.27" fill="#2962ff"/><rect x="261.83" y="79.80" width="2.8" height="1.76" fill="#2962ff"/><rect x="265.48" y="76.23" width="1" height="11.83" fill="#ef5350"/><rect x="264.58" y="79.31" width="2.8" height="7.49" fill="#ef5350"/><rect x="268.22" y="76.80" width="1" height="13.10" fill="#2962ff"/><rect x="267.32" y="81.00" width="2.8" height="6.38" fill="#2962ff"/><rect x="270.96" y="80.27" width="1" height="11.10" fill="#ef5350"/><rect x="270.06" y="80.50" width="2.8" height="10.50" fill="#ef5350"/><rect x="273.70" y="89.82" width="1" height="10.34" fill="#ef5350"/><rect x="272.80" y="90.87" width="2.8" height="6.83" fill="#ef5350"/><rect x="276.44" y="92.87" width="1" height="5.28" fill="#2962ff"/><rect x="275.54" y="93.50" width="2.8" height="4.34" fill="#2962ff"/><rect x="279.19" y="91.10" width="1" height="2.97" fill="#2962ff"/><rect x="278.29" y="92.70" width="2.8" height="1.17" fill="#2962ff"/><rect x="281.93" y="83.04" width="1" height="12.87" fill="#2962ff"/><rect x="281.03" y="85.00" width="2.8" height="7.84" fill="#2962ff"/><rect x="284.67" y="74.64" width="1" height="13.03" fill="#2962ff"/><rect x="283.77" y="76.00" width="2.8" height="9.57" fill="#2962ff"/><rect x="287.41" y="67.00" width="1" height="10.77" fill="#ef5350"/><rect x="286.51" y="75.88" width="2.8" height="1.00" fill="#ef5350"/><rect x="290.15" y="76.26" width="1" height="6.23" fill="#ef5350"/><rect x="289.25" y="76.51" width="2.8" height="4.49" fill="#ef5350"/><rect x="292.90" y="79.65" width="1" height="15.16" fill="#ef5350"/><rect x="292.00" y="80.48" width="2.8" height="11.32" fill="#ef5350"/><rect x="295.64" y="87.28" width="1" height="5.12" fill="#2962ff"/><rect x="294.74" y="88.50" width="2.8" height="3.39" fill="#2962ff"/><rect x="298.38" y="85.71" width="1" height="5.00" fill="#2962ff"/><rect x="297.48" y="86.00" width="2.8" height="2.74" fill="#2962ff"/><rect x="301.12" y="80.00" width="1" height="8.31" fill="#2962ff"/><rect x="300.22" y="82.60" width="2.8" height="3.69" fill="#2962ff"/><rect x="303.86" y="77.18" width="1" height="6.12" fill="#2962ff"/><rect x="302.96" y="80.00" width="2.8" height="3.05" fill="#2962ff"/><rect x="306.61" y="67.85" width="1" height="13.77" fill="#2962ff"/><rect x="305.71" y="69.20" width="2.8" height="10.93" fill="#2962ff"/><rect x="309.35" y="65.00" width="1" height="5.05" fill="#2962ff"/><rect x="308.45" y="66.70" width="2.8" height="2.57" fill="#2962ff"/><rect x="312.09" y="64.10" width="1" height="9.87" fill="#ef5350"/><rect x="311.19" y="66.42" width="2.8" height="6.18" fill="#ef5350"/><rect x="314.83" y="71.72" width="1" height="1.88" fill="#ef5350"/><rect x="313.93" y="72.30" width="2.8" height="1.10" fill="#ef5350"/><rect x="317.57" y="70.97" width="1" height="10.87" fill="#ef5350"/><rect x="316.67" y="73.29" width="2.8" height="7.71" fill="#ef5350"/><rect x="320.32" y="75.17" width="1" height="10.83" fill="#2962ff"/><rect x="319.42" y="76.00" width="2.8" height="5.41" fill="#2962ff"/><rect x="323.06" y="75.06" width="1" height="25.51" fill="#ef5350"/><rect x="322.16" y="75.47" width="2.8" height="22.23" fill="#ef5350"/><rect x="325.80" y="96.08" width="1" height="2.62" fill="#ef5350"/><rect x="324.90" y="97.32" width="2.8" height="1.18" fill="#ef5350"/><rect x="328.54" y="98.00" width="1" height="2.72" fill="#ef5350"/><rect x="327.64" y="98.21" width="2.8" height="1.99" fill="#ef5350"/><rect x="331.28" y="99.29" width="1" height="6.48" fill="#ef5350"/><rect x="330.38" y="99.87" width="2.8" height="5.33" fill="#ef5350"/><rect x="334.03" y="100.17" width="1" height="8.15" fill="#2962ff"/><rect x="333.13" y="102.70" width="2.8" height="3.05" fill="#2962ff"/><rect x="336.77" y="101.59" width="1" height="4.41" fill="#2962ff"/><rect x="335.87" y="101.86" width="2.8" height="1.00" fill="#2962ff"/><rect x="339.51" y="97.52" width="1" height="7.37" fill="#2962ff"/><rect x="338.61" y="100.20" width="2.8" height="1.97" fill="#2962ff"/><rect x="342.25" y="88.10" width="1" height="13.39" fill="#2962ff"/><rect x="341.35" y="91.80" width="2.8" height="8.57" fill="#2962ff"/><rect x="344.99" y="89.45" width="1" height="7.74" fill="#ef5350"/><rect x="344.09" y="91.38" width="2.8" height="2.92" fill="#ef5350"/><rect x="347.74" y="93.96" width="1" height="8.48" fill="#ef5350"/><rect x="346.84" y="94.18" width="2.8" height="7.72" fill="#ef5350"/><rect x="350.48" y="100.28" width="1" height="6.70" fill="#ef5350"/><rect x="349.58" y="101.85" width="2.8" height="2.55" fill="#ef5350"/><rect x="353.22" y="101.10" width="1" height="7.70" fill="#ef5350"/><rect x="352.32" y="103.95" width="2.8" height="4.65" fill="#ef5350"/><rect x="355.96" y="101.90" width="1" height="12.12" fill="#ef5350"/><rect x="355.06" y="108.53" width="2.8" height="5.07" fill="#ef5350"/><rect x="358.70" y="110.92" width="1" height="8.58" fill="#2962ff"/><rect x="357.80" y="112.00" width="2.8" height="1.97" fill="#2962ff"/><rect x="361.45" y="104.60" width="1" height="8.35" fill="#2962ff"/><rect x="360.55" y="106.00" width="2.8" height="6.39" fill="#2962ff"/><rect x="364.19" y="101.90" width="1" height="4.69" fill="#2962ff"/><rect x="363.29" y="104.40" width="2.8" height="1.68" fill="#2962ff"/><rect x="366.93" y="100.94" width="1" height="10.01" fill="#ef5350"/><rect x="366.03" y="103.92" width="2.8" height="6.28" fill="#ef5350"/><rect x="369.67" y="103.29" width="1" height="7.26" fill="#2962ff"/><rect x="368.77" y="106.00" width="2.8" height="4.28" fill="#2962ff"/><rect x="372.41" y="101.90" width="1" height="25.32" fill="#ef5350"/><rect x="371.51" y="105.82" width="2.8" height="21.18" fill="#ef5350"/><rect x="375.16" y="124.59" width="1" height="12.00" fill="#ef5350"/><rect x="374.26" y="126.80" width="2.8" height="9.20" fill="#ef5350"/><rect x="377.85" y="133.18" width="1.1" height="112.22" fill="#ef5350"/><rect x="377.85" y="253" width="1.1" height="87.00" fill="#ef5350"/><rect x="377.00" y="135.82" width="2.8" height="69.18" fill="#ef5350"/><rect x="380.64" y="175.90" width="1" height="32.70" fill="#2962ff"/><rect x="379.74" y="176.40" width="2.8" height="28.66" fill="#2962ff"/><rect x="383.38" y="175.81" width="1" height="5.24" fill="#ef5350"/><rect x="382.48" y="176.07" width="2.8" height="3.93" fill="#ef5350"/><rect x="386.12" y="162.60" width="1" height="19.53" fill="#2962ff"/><rect x="385.22" y="174.00" width="2.8" height="6.17" fill="#2962ff"/><rect x="388.87" y="172.46" width="1" height="6.76" fill="#ef5350"/><rect x="387.97" y="173.71" width="2.8" height="4.99" fill="#ef5350"/><rect x="391.61" y="176.68" width="1" height="22.51" fill="#ef5350"/><rect x="390.71" y="178.50" width="2.8" height="19.50" fill="#ef5350"/><rect x="394.35" y="192.31" width="1" height="17.39" fill="#2962ff"/><rect x="393.45" y="193.60" width="2.8" height="4.93" fill="#2962ff"/><rect x="397.09" y="190.58" width="1" height="9.92" fill="#2962ff"/><rect x="396.19" y="192.50" width="2.8" height="1.55" fill="#2962ff"/><rect x="399.83" y="187.75" width="1" height="5.60" fill="#2962ff"/><rect x="398.93" y="189.00" width="2.8" height="3.72" fill="#2962ff"/><rect x="402.58" y="188.36" width="1" height="5.49" fill="#ef5350"/><rect x="401.68" y="188.84" width="2.8" height="4.76" fill="#ef5350"/><rect x="405.32" y="167.99" width="1" height="26.29" fill="#2962ff"/><rect x="404.42" y="168.30" width="2.8" height="25.47" fill="#2962ff"/><rect x="408.06" y="158.78" width="1" height="10.53" fill="#2962ff"/><rect x="407.16" y="159.00" width="2.8" height="9.63" fill="#2962ff"/><rect x="410.80" y="158.15" width="1" height="7.06" fill="#ef5350"/><rect x="409.90" y="158.79" width="2.8" height="6.21" fill="#ef5350"/><rect x="413.54" y="162.07" width="1" height="4.15" fill="#ef5350"/><rect x="412.64" y="164.65" width="2.8" height="1.35" fill="#ef5350"/><rect x="416.29" y="157.29" width="1" height="9.15" fill="#2962ff"/><rect x="415.39" y="158.00" width="2.8" height="8.02" fill="#2962ff"/><rect x="419.03" y="157.44" width="1" height="10.86" fill="#ef5350"/><rect x="418.13" y="157.88" width="2.8" height="3.52" fill="#ef5350"/><rect x="421.77" y="149.80" width="1" height="12.25" fill="#2962ff"/><rect x="420.87" y="150.00" width="2.8" height="11.76" fill="#2962ff"/><rect x="424.51" y="140.50" width="1" height="10.95" fill="#2962ff"/><rect x="423.61" y="140.70" width="2.8" height="9.76" fill="#2962ff"/><rect x="427.25" y="139.48" width="1" height="6.43" fill="#ef5350"/><rect x="426.35" y="140.58" width="2.8" height="4.72" fill="#ef5350"/><rect x="430.00" y="143.99" width="1" height="12.01" fill="#ef5350"/><rect x="429.10" y="145.00" width="2.8" height="10.70" fill="#ef5350"/><rect x="432.74" y="154.67" width="1" height="27.43" fill="#ef5350"/><rect x="431.84" y="155.25" width="2.8" height="19.95" fill="#ef5350"/><rect x="435.48" y="166.66" width="1" height="16.64" fill="#2962ff"/><rect x="434.58" y="167.20" width="2.8" height="8.15" fill="#2962ff"/><rect x="438.22" y="163.49" width="1" height="19.81" fill="#2962ff"/><rect x="437.32" y="163.70" width="2.8" height="3.58" fill="#2962ff"/><rect x="440.96" y="163.23" width="1" height="4.79" fill="#ef5350"/><rect x="440.06" y="163.45" width="2.8" height="3.75" fill="#ef5350"/><rect x="443.71" y="158.43" width="1" height="9.35" fill="#2962ff"/><rect x="442.81" y="161.40" width="2.8" height="6.18" fill="#2962ff"/><rect x="446.45" y="160.09" width="1" height="3.04" fill="#2962ff"/><rect x="445.55" y="160.30" width="2.8" height="1.29" fill="#2962ff"/><rect x="449.19" y="159.95" width="1" height="1.99" fill="#ef5350"/><rect x="448.29" y="160.04" width="2.8" height="1.00" fill="#ef5350"/><rect x="451.93" y="154.00" width="1" height="13.57" fill="#ef5350"/><rect x="451.03" y="160.27" width="2.8" height="6.93" fill="#ef5350"/><rect x="454.67" y="165.74" width="1" height="11.14" fill="#ef5350"/><rect x="453.77" y="166.65" width="2.8" height="8.55" fill="#ef5350"/><rect x="457.42" y="174.14" width="1" height="5.33" fill="#ef5350"/><rect x="456.52" y="174.69" width="2.8" height="2.81" fill="#ef5350"/><rect x="460.16" y="176.93" width="1" height="6.37" fill="#ef5350"/><rect x="459.26" y="177.16" width="2.8" height="1.54" fill="#ef5350"/><rect x="462.90" y="174.56" width="1" height="5.83" fill="#2962ff"/><rect x="462.00" y="175.20" width="2.8" height="4.10" fill="#2962ff"/><rect x="465.64" y="171.87" width="1" height="7.04" fill="#ef5350"/><rect x="464.74" y="174.63" width="2.8" height="2.87" fill="#ef5350"/><rect x="468.38" y="172.16" width="1" height="5.84" fill="#2962ff"/><rect x="467.48" y="173.00" width="2.8" height="4.66" fill="#2962ff"/><rect x="471.13" y="169.50" width="1" height="18.97" fill="#ef5350"/><rect x="470.23" y="172.70" width="2.8" height="15.20" fill="#ef5350"/><rect x="473.87" y="187.25" width="1" height="8.33" fill="#ef5350"/><rect x="472.97" y="187.54" width="2.8" height="6.06" fill="#ef5350"/><rect x="476.61" y="188.23" width="1" height="8.77" fill="#2962ff"/><rect x="475.71" y="191.30" width="2.8" height="2.52" fill="#2962ff"/><rect x="479.35" y="187.36" width="1" height="4.71" fill="#2962ff"/><rect x="478.45" y="187.90" width="2.8" height="3.43" fill="#2962ff"/><rect x="482.09" y="187.10" width="1" height="31.02" fill="#ef5350"/><rect x="481.19" y="187.41" width="2.8" height="29.19" fill="#ef5350"/><rect x="484.84" y="203.98" width="1" height="19.52" fill="#2962ff"/><rect x="483.94" y="205.00" width="2.8" height="11.70" fill="#2962ff"/><rect x="487.58" y="201.49" width="1" height="5.14" fill="#2962ff"/><rect x="486.68" y="201.70" width="2.8" height="3.82" fill="#2962ff"/><rect x="490.32" y="200.44" width="1" height="6.30" fill="#ef5350"/><rect x="489.42" y="201.44" width="2.8" height="3.56" fill="#ef5350"/><rect x="493.06" y="199.89" width="1" height="8.33" fill="#2962ff"/><rect x="492.16" y="200.50" width="2.8" height="5.08" fill="#2962ff"/><rect x="495.80" y="196.74" width="1" height="4.71" fill="#2962ff"/><rect x="494.90" y="197.00" width="2.8" height="3.87" fill="#2962ff"/><rect x="498.55" y="193.20" width="1" height="4.57" fill="#2962ff"/><rect x="497.65" y="196.00" width="2.8" height="1.33" fill="#2962ff"/><rect x="501.29" y="195.69" width="1" height="2.99" fill="#ef5350"/><rect x="500.39" y="196.00" width="2.8" height="2.00" fill="#ef5350"/><rect x="504.03" y="196.88" width="1" height="6.15" fill="#ef5350"/><rect x="503.13" y="197.95" width="2.8" height="2.55" fill="#ef5350"/><rect x="506.77" y="193.00" width="1" height="8.59" fill="#2962ff"/><rect x="505.87" y="195.60" width="2.8" height="5.22" fill="#2962ff"/><rect x="509.51" y="191.80" width="1" height="4.82" fill="#2962ff"/><rect x="508.61" y="194.60" width="2.8" height="1.23" fill="#2962ff"/><rect x="512.26" y="194.14" width="1" height="0.97" fill="#2962ff"/><rect x="511.36" y="194.11" width="2.8" height="1.00" fill="#2962ff"/><rect x="515.00" y="191.09" width="1" height="8.31" fill="#ef5350"/><rect x="514.10" y="194.11" width="2.8" height="3.59" fill="#ef5350"/><rect x="517.74" y="187.70" width="1" height="12.50" fill="#2962ff"/><rect x="516.84" y="190.20" width="2.8" height="8.00" fill="#2962ff"/><rect x="520.48" y="184.30" width="1" height="8.72" fill="#2962ff"/><rect x="519.58" y="186.00" width="2.8" height="4.40" fill="#2962ff"/><rect x="523.22" y="184.91" width="1" height="3.59" fill="#2962ff"/><rect x="522.32" y="185.20" width="2.8" height="1.30" fill="#2962ff"/><rect x="525.97" y="184.04" width="1" height="5.96" fill="#ef5350"/><rect x="525.07" y="184.76" width="2.8" height="4.54" fill="#ef5350"/><rect x="528.71" y="181.35" width="1" height="13.05" fill="#2962ff"/><rect x="527.81" y="183.50" width="2.8" height="6.00" fill="#2962ff"/><rect x="531.45" y="180.77" width="1" height="5.12" fill="#2962ff"/><rect x="530.55" y="181.00" width="2.8" height="2.59" fill="#2962ff"/><rect x="534.19" y="178.10" width="1" height="3.64" fill="#2962ff"/><rect x="533.29" y="180.10" width="2.8" height="1.11" fill="#2962ff"/><rect x="536.93" y="176.77" width="1" height="9.65" fill="#ef5350"/><rect x="536.03" y="179.60" width="2.8" height="5.60" fill="#ef5350"/><rect x="539.68" y="183.00" width="1" height="7.20" fill="#2962ff"/><rect x="538.78" y="183.50" width="2.8" height="2.18" fill="#2962ff"/><rect x="542.42" y="181.00" width="1" height="2.80" fill="#2962ff"/><rect x="541.52" y="182.56" width="2.8" height="1.00" fill="#2962ff"/><rect x="545.16" y="182.01" width="1" height="10.46" fill="#ef5350"/><rect x="544.26" y="182.36" width="2.8" height="9.54" fill="#ef5350"/><rect x="547.90" y="191.24" width="1" height="6.46" fill="#ef5350"/><rect x="547.00" y="191.68" width="2.8" height="3.52" fill="#ef5350"/><rect x="550.64" y="192.31" width="1" height="6.23" fill="#2962ff"/><rect x="549.74" y="192.70" width="2.8" height="2.77" fill="#2962ff"/><rect x="553.39" y="169.30" width="1" height="26.51" fill="#2962ff"/><rect x="552.49" y="171.00" width="2.8" height="22.06" fill="#2962ff"/><rect x="556.13" y="169.30" width="1" height="10.04" fill="#ef5350"/><rect x="555.23" y="170.81" width="2.8" height="6.79" fill="#ef5350"/><rect x="558.87" y="176.98" width="1" height="12.98" fill="#ef5350"/><rect x="557.97" y="177.36" width="2.8" height="11.94" fill="#ef5350"/><rect x="561.61" y="186.73" width="1" height="4.59" fill="#ef5350"/><rect x="560.71" y="188.79" width="2.8" height="2.21" fill="#ef5350"/><rect x="564.35" y="187.70" width="1" height="7.28" fill="#ef5350"/><rect x="563.45" y="190.46" width="2.8" height="3.04" fill="#ef5350"/><rect x="567.10" y="191.78" width="1" height="10.92" fill="#ef5350"/><rect x="566.20" y="193.14" width="2.8" height="3.76" fill="#ef5350"/><rect x="569.84" y="191.00" width="1" height="7.54" fill="#2962ff"/><rect x="568.94" y="193.50" width="2.8" height="3.40" fill="#2962ff"/><rect x="572.58" y="192.80" width="1" height="5.10" fill="#ef5350"/><rect x="571.68" y="193.00" width="2.8" height="4.70" fill="#ef5350"/><rect x="575.32" y="195.42" width="1" height="13.18" fill="#ef5350"/><rect x="574.42" y="197.45" width="2.8" height="1.95" fill="#ef5350"/><rect x="578.06" y="194.62" width="1" height="5.31" fill="#2962ff"/><rect x="577.16" y="196.00" width="2.8" height="3.72" fill="#2962ff"/><rect x="580.81" y="189.08" width="1" height="9.28" fill="#2962ff"/><rect x="579.91" y="191.90" width="2.8" height="4.27" fill="#2962ff"/><rect x="583.55" y="189.61" width="1" height="3.30" fill="#ef5350"/><rect x="582.65" y="191.80" width="2.8" height="1.00" fill="#ef5350"/><rect x="586.29" y="186.41" width="1" height="6.74" fill="#2962ff"/><rect x="585.39" y="188.50" width="2.8" height="4.25" fill="#2962ff"/><rect x="589.03" y="184.30" width="1" height="5.38" fill="#2962ff"/><rect x="588.13" y="186.80" width="2.8" height="2.07" fill="#2962ff"/><rect x="591.77" y="184.48" width="1" height="6.72" fill="#ef5350"/><rect x="590.87" y="186.62" width="2.8" height="3.58" fill="#ef5350"/><rect x="594.52" y="185.62" width="1" height="6.91" fill="#2962ff"/><rect x="593.62" y="186.80" width="2.8" height="3.56" fill="#2962ff"/><rect x="597.26" y="182.83" width="1" height="6.38" fill="#2962ff"/><rect x="596.36" y="183.50" width="2.8" height="3.45" fill="#2962ff"/><rect x="600.00" y="181.80" width="1" height="5.31" fill="#ef5350"/><rect x="599.10" y="182.98" width="2.8" height="2.22" fill="#ef5350"/><rect x="602.74" y="178.10" width="1" height="14.28" fill="#ef5350"/><rect x="601.84" y="184.85" width="2.8" height="4.45" fill="#ef5350"/><rect x="605.48" y="182.51" width="1" height="7.50" fill="#2962ff"/><rect x="604.58" y="185.20" width="2.8" height="4.48" fill="#2962ff"/><rect x="608.23" y="180.05" width="1" height="5.73" fill="#2962ff"/><rect x="607.33" y="181.80" width="2.8" height="3.78" fill="#2962ff"/><rect x="610.97" y="180.98" width="1" height="3.62" fill="#ef5350"/><rect x="610.07" y="181.21" width="2.8" height="3.09" fill="#ef5350"/><rect x="613.71" y="183.65" width="1" height="4.83" fill="#ef5350"/><rect x="612.81" y="184.09" width="2.8" height="3.61" fill="#ef5350"/><rect x="616.45" y="182.57" width="1" height="7.51" fill="#2962ff"/><rect x="615.55" y="185.20" width="2.8" height="2.59" fill="#2962ff"/><rect x="619.19" y="183.79" width="1" height="3.17" fill="#2962ff"/><rect x="618.29" y="184.86" width="2.8" height="1.00" fill="#2962ff"/><rect x="621.94" y="180.49" width="1" height="6.19" fill="#2962ff"/><rect x="621.04" y="183.20" width="2.8" height="2.36" fill="#2962ff"/><rect x="624.68" y="182.86" width="1" height="1.85" fill="#ef5350"/><rect x="623.78" y="183.07" width="2.8" height="1.23" fill="#ef5350"/><rect x="627.42" y="183.46" width="1" height="5.26" fill="#ef5350"/><rect x="626.52" y="183.71" width="2.8" height="4.79" fill="#ef5350"/><rect x="630.16" y="182.39" width="1" height="6.86" fill="#2962ff"/><rect x="629.26" y="182.60" width="2.8" height="6.33" fill="#2962ff"/><rect x="632.90" y="173.19" width="1" height="11.00" fill="#2962ff"/><rect x="632.00" y="173.40" width="2.8" height="9.60" fill="#2962ff"/><rect x="635.65" y="171.41" width="1" height="5.66" fill="#2962ff"/><rect x="634.75" y="171.80" width="2.8" height="2.15" fill="#2962ff"/><rect x="638.39" y="170.34" width="1" height="5.32" fill="#ef5350"/><rect x="637.49" y="171.42" width="2.8" height="1.18" fill="#ef5350"/><rect x="641.13" y="162.31" width="1" height="12.79" fill="#2962ff"/><rect x="640.23" y="163.40" width="2.8" height="9.24" fill="#2962ff"/><rect x="643.87" y="163.06" width="1" height="3.21" fill="#ef5350"/><rect x="642.97" y="163.06" width="2.8" height="2.84" fill="#ef5350"/><rect x="646.61" y="163.10" width="1" height="5.79" fill="#ef5350"/><rect x="645.71" y="165.31" width="2.8" height="3.09" fill="#ef5350"/><rect x="649.36" y="165.45" width="1" height="11.35" fill="#ef5350"/><rect x="648.46" y="168.30" width="2.8" height="5.10" fill="#ef5350"/><rect x="652.10" y="171.26" width="1" height="6.34" fill="#2962ff"/><rect x="651.20" y="171.50" width="2.8" height="2.12" fill="#2962ff"/><rect x="654.84" y="166.30" width="1" height="6.49" fill="#2962ff"/><rect x="653.94" y="170.00" width="2.8" height="2.09" fill="#2962ff"/><rect x="657.58" y="167.93" width="1" height="10.22" fill="#ef5350"/><rect x="656.68" y="169.89" width="2.8" height="6.41" fill="#ef5350"/><rect x="660.32" y="172.85" width="1" height="6.59" fill="#ef5350"/><rect x="659.42" y="175.96" width="2.8" height="2.84" fill="#ef5350"/><rect x="663.07" y="172.60" width="1" height="8.85" fill="#2962ff"/><rect x="662.17" y="176.30" width="2.8" height="2.67" fill="#2962ff"/><rect x="665.81" y="173.97" width="1" height="3.00" fill="#2962ff"/><rect x="664.91" y="176.02" width="2.8" height="1.00" fill="#2962ff"/><rect x="668.55" y="175.10" width="1" height="11.07" fill="#ef5350"/><rect x="667.65" y="176.03" width="2.8" height="8.97" fill="#ef5350"/><rect x="671.29" y="184.14" width="1" height="4.18" fill="#ef5350"/><rect x="670.39" y="184.79" width="2.8" height="1.61" fill="#ef5350"/><rect x="674.03" y="185.41" width="1" height="7.19" fill="#ef5350"/><rect x="673.13" y="186.37" width="2.8" height="2.53" fill="#ef5350"/><rect x="676.78" y="187.09" width="1" height="3.27" fill="#2962ff"/><rect x="675.88" y="188.00" width="2.8" height="1.24" fill="#2962ff"/><rect x="679.52" y="182.03" width="1" height="8.97" fill="#2962ff"/><rect x="678.62" y="183.90" width="2.8" height="4.11" fill="#2962ff"/><rect x="682.26" y="179.65" width="1" height="7.56" fill="#2962ff"/><rect x="681.36" y="180.00" width="2.8" height="4.48" fill="#2962ff"/><rect x="685.00" y="178.19" width="1" height="7.26" fill="#ef5350"/><rect x="684.10" y="179.44" width="2.8" height="5.56" fill="#ef5350"/><rect x="687.74" y="173.80" width="1" height="20.10" fill="#2962ff"/><rect x="686.84" y="175.00" width="2.8" height="10.08" fill="#2962ff"/><rect x="690.49" y="173.10" width="1" height="14.72" fill="#ef5350"/><rect x="689.59" y="174.84" width="2.8" height="10.16" fill="#ef5350"/><rect x="693.23" y="181.73" width="1" height="5.19" fill="#2962ff"/><rect x="692.33" y="183.90" width="2.8" height="1.28" fill="#2962ff"/><rect x="695.97" y="182.59" width="1" height="14.23" fill="#ef5350"/><rect x="695.07" y="183.66" width="2.8" height="12.74" fill="#ef5350"/><rect x="698.71" y="193.05" width="1" height="4.15" fill="#2962ff"/><rect x="697.81" y="195.00" width="2.8" height="1.97" fill="#2962ff"/><rect x="701.45" y="194.43" width="1" height="14.42" fill="#ef5350"/><rect x="700.55" y="194.83" width="2.8" height="12.87" fill="#ef5350"/><rect x="704.20" y="206.79" width="1" height="11.53" fill="#ef5350"/><rect x="703.30" y="207.22" width="2.8" height="10.48" fill="#ef5350"/><rect x="706.94" y="201.47" width="1" height="17.86" fill="#2962ff"/><rect x="706.04" y="202.70" width="2.8" height="15.26" fill="#2962ff"/><rect x="709.68" y="196.03" width="1" height="9.00" fill="#2962ff"/><rect x="708.78" y="199.00" width="2.8" height="3.94" fill="#2962ff"/><rect x="712.42" y="193.71" width="1" height="6.26" fill="#2962ff"/><rect x="711.52" y="196.40" width="2.8" height="2.79" fill="#2962ff"/><rect x="715.16" y="190.78" width="1" height="7.62" fill="#2962ff"/><rect x="714.26" y="192.60" width="2.8" height="4.25" fill="#2962ff"/><rect x="717.91" y="191.18" width="1" height="7.72" fill="#2962ff"/><rect x="717.01" y="191.40" width="2.8" height="1.57" fill="#2962ff"/><rect x="720.65" y="186.53" width="1" height="5.74" fill="#2962ff"/><rect x="719.75" y="189.60" width="2.8" height="1.86" fill="#2962ff"/><rect x="723.39" y="188.11" width="1" height="3.73" fill="#ef5350"/><rect x="722.49" y="189.29" width="2.8" height="2.11" fill="#ef5350"/><rect x="726.13" y="188.60" width="1" height="4.99" fill="#2962ff"/><rect x="725.23" y="188.90" width="2.8" height="3.06" fill="#2962ff"/><rect x="728.87" y="185.82" width="1" height="3.78" fill="#2962ff"/><rect x="727.97" y="187.60" width="2.8" height="1.70" fill="#2962ff"/><rect x="731.62" y="186.05" width="1" height="2.22" fill="#2962ff"/><rect x="730.72" y="186.40" width="2.8" height="1.58" fill="#2962ff"/><rect x="734.36" y="184.80" width="1" height="3.16" fill="#2962ff"/><rect x="733.46" y="185.10" width="2.8" height="1.87" fill="#2962ff"/><rect x="737.10" y="183.50" width="1" height="2.85" fill="#2962ff"/><rect x="736.20" y="183.90" width="2.8" height="1.62" fill="#2962ff"/><rect x="739.84" y="180.60" width="1" height="4.48" fill="#2962ff"/><rect x="738.94" y="182.60" width="2.8" height="1.66" fill="#2962ff"/><rect x="742.58" y="181.46" width="1" height="8.13" fill="#ef5350"/><rect x="741.68" y="182.44" width="2.8" height="5.16" fill="#ef5350"/><rect x="745.33" y="181.05" width="1" height="7.31" fill="#2962ff"/><rect x="744.43" y="181.40" width="2.8" height="6.56" fill="#2962ff"/><rect x="748.07" y="179.95" width="1" height="4.93" fill="#ef5350"/><rect x="747.17" y="180.80" width="2.8" height="1.20" fill="#ef5350"/><rect x="750.81" y="181.18" width="1" height="9.23" fill="#ef5350"/><rect x="749.91" y="181.89" width="2.8" height="8.21" fill="#ef5350"/><rect x="753.55" y="189.60" width="1" height="3.40" fill="#ef5350"/><rect x="752.65" y="189.80" width="2.8" height="2.80" fill="#ef5350"/><rect x="756.29" y="183.29" width="1" height="9.99" fill="#2962ff"/><rect x="755.39" y="183.90" width="2.8" height="9.13" fill="#2962ff"/><rect x="759.04" y="180.34" width="1" height="23.76" fill="#ef5350"/><rect x="758.14" y="183.41" width="2.8" height="20.49" fill="#ef5350"/><rect x="761.78" y="202.32" width="1" height="9.23" fill="#ef5350"/><rect x="760.88" y="203.50" width="2.8" height="5.40" fill="#ef5350"/><rect x="764.52" y="208.15" width="1" height="5.53" fill="#ef5350"/><rect x="763.62" y="208.46" width="2.8" height="2.94" fill="#ef5350"/><rect x="767.26" y="210.02" width="1" height="26.48" fill="#ef5350"/><rect x="766.36" y="210.81" width="2.8" height="13.19" fill="#ef5350"/><rect x="770.00" y="212.70" width="1" height="13.80" fill="#2962ff"/><rect x="769.10" y="222.70" width="2.8" height="1.62" fill="#2962ff"/><rect x="772.75" y="221.58" width="1" height="9.92" fill="#ef5350"/><rect x="771.85" y="222.28" width="2.8" height="5.42" fill="#ef5350"/><rect x="775.49" y="221.23" width="1" height="7.12" fill="#2962ff"/><rect x="774.59" y="221.50" width="2.8" height="6.61" fill="#2962ff"/><rect x="778.23" y="219.32" width="1" height="17.91" fill="#ef5350"/><rect x="777.33" y="221.16" width="2.8" height="15.34" fill="#ef5350"/><rect x="780.97" y="225.20" width="1" height="13.80" fill="#ef5350"/><rect x="780.07" y="236.45" width="2.8" height="1.35" fill="#ef5350"/><rect x="783.71" y="228.57" width="1" height="11.84" fill="#2962ff"/><rect x="782.81" y="229.00" width="2.8" height="8.80" fill="#2962ff"/><rect x="786.46" y="222.70" width="1" height="25.10" fill="#ef5350"/><rect x="785.56" y="228.42" width="2.8" height="16.88" fill="#ef5350"/><rect x="789.20" y="237.30" width="1" height="22.30" fill="#2962ff"/><rect x="788.30" y="237.80" width="2.8" height="7.96" fill="#2962ff"/><rect x="791.94" y="229.72" width="1" height="26.88" fill="#2962ff"/><rect x="791.04" y="230.50" width="2.8" height="7.63" fill="#2962ff"/><rect x="794.68" y="229.76" width="1" height="7.00" fill="#ef5350"/><rect x="793.78" y="230.02" width="2.8" height="3.78" fill="#ef5350"/><rect x="797.42" y="233.26" width="1" height="7.84" fill="#ef5350"/><rect x="796.52" y="233.47" width="2.8" height="4.53" fill="#ef5350"/><rect x="800.17" y="228.16" width="1" height="12.14" fill="#2962ff"/><rect x="799.27" y="228.60" width="2.8" height="9.52" fill="#2962ff"/><rect x="802.91" y="224.97" width="1" height="5.23" fill="#2962ff"/><rect x="802.01" y="225.40" width="2.8" height="3.59" fill="#2962ff"/><rect x="805.65" y="224.08" width="1" height="5.03" fill="#ef5350"/><rect x="804.75" y="224.98" width="2.8" height="2.52" fill="#ef5350"/><rect x="808.39" y="225.04" width="1" height="7.97" fill="#ef5350"/><rect x="807.49" y="227.09" width="2.8" height="4.61" fill="#ef5350"/><rect x="811.13" y="231.33" width="1" height="5.12" fill="#ef5350"/><rect x="810.23" y="231.61" width="2.8" height="4.29" fill="#ef5350"/><rect x="813.88" y="231.50" width="1" height="7.20" fill="#2962ff"/><rect x="812.98" y="231.70" width="2.8" height="4.65" fill="#2962ff"/><rect x="816.62" y="230.50" width="1" height="10.76" fill="#ef5350"/><rect x="815.72" y="231.67" width="2.8" height="7.33" fill="#ef5350"/><rect x="819.36" y="231.43" width="1" height="10.77" fill="#2962ff"/><rect x="818.46" y="232.80" width="2.8" height="6.34" fill="#2962ff"/><rect x="822.10" y="229.52" width="1" height="5.91" fill="#ef5350"/><rect x="821.20" y="232.69" width="2.8" height="2.21" fill="#ef5350"/><rect x="824.84" y="222.49" width="1" height="13.32" fill="#2962ff"/><rect x="823.94" y="223.30" width="2.8" height="12.18" fill="#2962ff"/><rect x="827.59" y="216.88" width="1" height="7.14" fill="#2962ff"/><rect x="826.69" y="217.10" width="2.8" height="6.29" fill="#2962ff"/><rect x="830.33" y="215.43" width="1" height="11.53" fill="#ef5350"/><rect x="829.43" y="216.62" width="2.8" height="8.78" fill="#ef5350"/><rect x="833.07" y="212.81" width="1" height="18.89" fill="#2962ff"/><rect x="832.17" y="215.00" width="2.8" height="10.79" fill="#2962ff"/><rect x="835.81" y="183.00" width="1" height="32.27" fill="#2962ff"/><rect x="834.91" y="188.80" width="2.8" height="26.25" fill="#2962ff"/><rect x="838.55" y="177.30" width="1" height="14.13" fill="#ef5350"/><rect x="837.65" y="188.57" width="2.8" height="2.43" fill="#ef5350"/><rect x="841.30" y="180.00" width="1" height="13.29" fill="#2962ff"/><rect x="840.40" y="190.00" width="2.8" height="1.04" fill="#2962ff"/><rect x="844.04" y="184.60" width="1" height="11.60" fill="#2962ff"/><rect x="843.14" y="188.80" width="2.8" height="1.21" fill="#2962ff"/><rect x="846.78" y="185.00" width="1" height="9.70" fill="#ef5350"/><rect x="845.88" y="188.45" width="2.8" height="5.55" fill="#ef5350"/><rect x="849.52" y="190.99" width="1" height="15.02" fill="#ef5350"/><rect x="848.62" y="193.50" width="2.8" height="10.00" fill="#ef5350"/><rect x="852.26" y="196.92" width="1" height="10.02" fill="#2962ff"/><rect x="851.36" y="198.20" width="2.8" height="5.55" fill="#2962ff"/><rect x="855.01" y="193.05" width="1" height="7.78" fill="#2962ff"/><rect x="854.11" y="193.40" width="2.8" height="5.38" fill="#2962ff"/><rect x="857.75" y="192.47" width="1" height="14.33" fill="#ef5350"/><rect x="856.85" y="192.84" width="2.8" height="13.76" fill="#ef5350"/><rect x="860.49" y="197.36" width="1" height="11.87" fill="#2962ff"/><rect x="859.59" y="198.20" width="2.8" height="8.71" fill="#2962ff"/><rect x="863.23" y="192.35" width="1" height="7.84" fill="#2962ff"/><rect x="862.33" y="193.40" width="2.8" height="5.15" fill="#2962ff"/><rect x="865.97" y="187.80" width="1" height="6.61" fill="#2962ff"/><rect x="865.07" y="191.00" width="2.8" height="2.72" fill="#2962ff"/><rect x="868.72" y="188.76" width="1" height="9.44" fill="#2962ff"/><rect x="867.82" y="190.31" width="2.8" height="1.00" fill="#2962ff"/><rect x="871.46" y="189.68" width="1" height="4.41" fill="#ef5350"/><rect x="870.56" y="190.02" width="2.8" height="1.98" fill="#ef5350"/><rect x="874.20" y="185.00" width="1" height="9.70" fill="#2962ff"/><rect x="873.30" y="187.80" width="2.8" height="4.70" fill="#2962ff"/><rect x="876.94" y="184.93" width="1" height="9.17" fill="#ef5350"/><rect x="876.04" y="187.74" width="2.8" height="3.26" fill="#ef5350"/><rect x="879.68" y="186.66" width="1" height="7.81" fill="#2962ff"/><rect x="878.78" y="188.40" width="2.8" height="3.14" fill="#2962ff"/><rect x="882.43" y="184.20" width="1" height="10.50" fill="#ef5350"/><rect x="881.53" y="187.81" width="2.8" height="4.19" fill="#ef5350"/><rect x="885.17" y="187.64" width="1" height="8.56" fill="#2962ff"/><rect x="884.27" y="188.40" width="2.8" height="4.11" fill="#2962ff"/><rect x="887.91" y="182.60" width="1" height="10.40" fill="#2962ff"/><rect x="887.01" y="185.70" width="2.8" height="3.05" fill="#2962ff"/><rect x="890.65" y="180.00" width="1" height="8.52" fill="#2962ff"/><rect x="889.75" y="184.20" width="2.8" height="1.80" fill="#2962ff"/><rect x="893.39" y="183.48" width="1" height="16.01" fill="#ef5350"/><rect x="892.49" y="183.71" width="2.8" height="15.19" fill="#ef5350"/><rect x="896.14" y="194.00" width="1" height="8.15" fill="#2962ff"/><rect x="895.24" y="198.18" width="2.8" height="1.00" fill="#2962ff"/><rect x="898.88" y="196.20" width="1" height="3.35" fill="#ef5350"/><rect x="897.98" y="197.92" width="2.8" height="1.38" fill="#ef5350"/>
<line x1="309.6" y1="65" x2="986.8" y2="245.1" stroke="#1c1c1c" stroke-width="1.15"/>
<rect x="3" y="370.6" width="1175" height="1" fill="#e0e3eb"/>
<rect x="3" y="391.5" width="1083.3" height="35.6" fill="#e9f4fe"/>
<line x1="3" y1="391.5" x2="1086.3" y2="391.5" stroke="#6a6d78" stroke-width="1.2" stroke-dasharray="5 6"/>
<line x1="3" y1="409.5" x2="1086.3" y2="409.5" stroke="#b0b3bc" stroke-width="1.1" stroke-dasharray="5 6"/>
<line x1="3" y1="427.4" x2="1086.3" y2="427.4" stroke="#6a6d78" stroke-width="1.2" stroke-dasharray="5 6"/>
<polyline points="3.4,381.9 6.8,393.7 10.2,397.1 16.1,395.4 21.2,409.8 27.0,425.0 35.0,436.0 45.0,432.0 53.3,409.8 57.1,400.5 59.3,402.2 63.0,409.8 70.0,430.0 80.0,432.0 89.8,409.8 92.3,403.5 100.8,402.2 104.1,390.3 109.2,379.7 112.6,379.7 116.0,390.3 119.4,409.8 125.0,430.0 135.0,434.0 143.9,409.8 147.0,388.6 150.4,381.0 155.0,386.9 160.9,392.9 163.9,391.2 169.3,397.9 172.2,406.4 176.1,395.4 180.4,381.0 183.7,382.7 188.0,397.1 191.4,400.1 194.8,395.4 197.0,390.7 200.1,398.8 208.2,420.5 213.6,411.5 218.7,400.5 222.9,383.5 227.2,379.3 235.6,379.3 240.7,382.7 245.8,384.9 249.2,389.5 253.4,411.5 257.7,414.4 261.9,410.6 265.3,420.0 267.8,423.3 271.2,433.5 275.9,436.4 281.4,427.6 286.4,399.6 289.8,394.6 294.9,419.1 298.0,425.0 303.4,414.0 308.8,386.9 311.8,384.9 314.4,388.6 317.3,405.6 320.3,411.5 325.4,428.4 328.8,439.1 333.9,438.2 338.9,434.4 344.9,421.7 347.9,420.0 352.5,430.1 357.6,436.9 363.5,417.4 368.9,406.9 372.8,420.8 377.9,438.6 381.3,427.6 386.4,411.5 389.7,408.1 396.8,413.7 402.7,408.1 406.9,393.7 410.7,381.5 417.1,381.9 426.4,380.5 429.8,384.4 434.9,404.7 440.8,409.3 444.2,409.8 445.9,413.2 448.4,410.3 453.0,415.7 456.9,429.3 460.3,437.2 464.2,437.7 467.6,427.9 473.0,428.8 476.0,437.7 478.9,432.3 482.3,432.3 485.7,425.9 489.9,409.8 495.8,400.5 500.4,388.3 504.3,389.0 511.6,379.3 515.0,382.2 520.4,381.9 522.9,379.3 526.3,381.5 531.4,381.5 533.9,379.3 537.3,383.5 541.6,389.5 545.8,403.9 550.9,430.1 555.6,401.3 558.8,400.1 561.0,415.7 564.4,429.3 567.0,433.0 572.0,436.0 577.6,438.1 581.4,429.3 585.6,419.1 590.9,409.0 596.0,386.9 599.9,382.7 602.8,387.8 606.2,389.0 610.4,385.2 613.8,390.3 616.3,403.0 619.7,409.0 624.8,403.5 627.0,412.3 630.4,412.0 633.3,403.9 635.8,385.2 638.3,379.7 643.4,379.7 646.8,384.4 650.2,398.8 652.7,405.6 657.8,413.2 662.1,426.7 666.3,434.4 671.4,438.6 677.3,438.6 681.5,428.4 684.9,423.3 688.0,412.7 690.0,414.4 692.9,409.8 697.6,419.1 703.9,438.9 707.8,427.6 712.0,406.4 718.8,397.1 725.6,386.9 732.3,379.3 740.0,379.3 743.3,384.4 747.9,384.9 751.0,393.7 753.5,412.3 756.0,423.9 761.1,425.5 764.2,438.6 769.6,438.9 774.7,435.2 777.5,435.7 780.9,430.6 786.0,428.4 789.4,429.3 792.8,420.8 797.0,395.4 800.1,385.2 802.9,383.5 806.0,379.8 809.7,383.2 817.0,397.1 820.4,391.2 825.0,382.7 827.8,381.5 830.0,384.9 836.0,385.2 839.4,380.5 843.6,382.7 847.8,384.4 852.1,394.6 858.0,403.9 863.1,414.5 868.1,411.5 873.2,410.1 877.5,409.8 880.0,407.6 882.0,411.0 886.8,397.1 891.0,381.0 894.4,409.8 899.0,438.6" fill="none" stroke="#2962ff" stroke-width="1.2" stroke-linejoin="round" stroke-linecap="round" />
<polyline points="3.4,390.3 5.9,386.1 10.2,392.9 15.2,395.4 19.5,401.3 23.4,409.8 30.0,425.0 38.0,435.0 48.0,430.0 55.0,409.8 59.3,402.7 61.8,403.5 64.7,409.8 72.0,428.0 82.0,430.0 90.6,409.8 95.7,403.9 101.6,402.2 105.8,395.4 110.9,384.4 113.8,381.0 117.7,388.6 122.3,409.8 128.0,428.0 138.0,432.0 145.6,409.8 149.9,391.2 153.3,384.4 159.2,389.5 163.4,391.2 169.3,394.6 174.4,402.2 177.8,398.8 182.0,386.9 185.8,383.2 189.7,392.0 193.0,397.9 196.0,396.5 200.1,395.1 203.5,401.3 211.9,418.3 217.0,411.5 222.1,397.9 227.2,385.2 231.4,379.8 237.3,379.7 244.1,382.7 249.2,386.1 252.6,395.4 256.8,408.1 260.2,413.2 264.4,414.4 268.7,420.0 272.9,431.0 277.1,435.2 282.2,431.0 287.3,409.0 291.5,400.1 296.6,414.0 300.8,420.8 305.1,415.7 310.2,395.4 314.4,387.3 317.8,393.7 322.0,409.8 327.1,427.6 332.2,436.9 336.4,438.2 341.5,434.4 348.3,422.5 353.3,427.6 358.9,435.2 364.3,424.2 369.4,411.2 374.5,417.4 379.9,432.7 383.8,429.3 388.9,414.0 392.5,409.3 400.2,412.3 405.2,406.4 409.5,394.6 413.7,383.9 419.6,382.2 427.3,381.0 432.3,386.9 436.6,400.5 440.8,406.9 447.6,409.8 454.4,414.4 457.7,425.9 462.0,434.4 465.0,437.2 469.6,431.8 473.8,428.4 477.2,432.7 482.3,434.4 486.5,428.4 491.6,415.7 497.5,401.3 501.8,392.9 507.7,387.8 513.6,382.2 522.1,381.3 530.6,381.5 535.6,381.0 539.9,383.5 544.1,392.0 549.2,409.0 552.9,420.5 556.8,414.0 560.2,405.6 563.6,415.7 567.8,429.3 572.0,434.4 578.8,436.9 583.9,430.1 590.9,414.9 596.0,397.9 599.4,388.6 602.8,386.1 607.9,388.3 612.1,386.9 615.5,392.0 618.9,401.3 623.1,406.4 629.0,409.3 633.3,409.8 636.7,398.8 640.0,384.4 643.4,380.2 646.8,381.0 650.2,388.6 654.4,399.6 659.5,412.3 664.6,425.0 668.8,434.4 673.9,438.1 678.1,438.2 683.2,430.1 688.3,419.1 693.4,412.3 699.3,415.7 703.5,428.4 706.6,433.0 710.3,425.9 715.4,407.3 722.2,395.4 728.9,387.8 734.9,380.5 740.0,379.3 745.0,382.7 750.1,386.9 753.5,397.9 756.9,414.0 760.3,423.3 764.5,430.1 770.4,438.6 775.5,437.2 778.4,436.6 785.2,430.1 790.2,428.4 794.0,421.7 797.9,403.9 802.1,389.5 807.2,381.5 811.4,383.5 816.5,391.2 820.7,394.6 825.0,389.5 829.2,383.5 836.0,384.9 841.9,381.5 847.0,382.7 851.2,388.6 856.3,397.9 861.4,406.4 865.6,412.3 870.7,412.0 876.6,410.3 882.5,409.3 887.6,402.2 892.2,391.2 896.1,400.5 899.0,419.1" fill="none" stroke="#f57c00" stroke-width="1.3" stroke-linejoin="round" stroke-linecap="round" />
<rect x="0" y="410.3" width="174.5" height="35.7" fill="#ffffff"/>
<rect x="3" y="474" width="1175" height="1" fill="#e4e4e4"/>
<text x="1094.7" y="70.3" font-size="12" fill="#131722" font-weight="normal" text-anchor="start" textLength="67.5" lengthAdjust="spacingAndGlyphs">0.000013000</text>
<text x="1094.7" y="112.3" font-size="12" fill="#131722" font-weight="normal" text-anchor="start" textLength="67.5" lengthAdjust="spacingAndGlyphs">0.000012000</text>
<text x="1094.7" y="154.3" font-size="12" fill="#131722" font-weight="normal" text-anchor="start" textLength="67.5" lengthAdjust="spacingAndGlyphs">0.000011000</text>
<text x="1094.7" y="196.3" font-size="12" fill="#131722" font-weight="normal" text-anchor="start" textLength="67.5" lengthAdjust="spacingAndGlyphs">0.000010000</text>
<text x="1094.7" y="238.3" font-size="12" fill="#131722" font-weight="normal" text-anchor="start" textLength="67.5" lengthAdjust="spacingAndGlyphs">0.000009000</text>
<text x="1094.7" y="280.3" font-size="12" fill="#131722" font-weight="normal" text-anchor="start" textLength="67.5" lengthAdjust="spacingAndGlyphs">0.000008000</text>
<text x="1094.7" y="322.3" font-size="12" fill="#131722" font-weight="normal" text-anchor="start" textLength="67.5" lengthAdjust="spacingAndGlyphs">0.000007000</text>
<text x="1094.7" y="364.3" font-size="12" fill="#131722" font-weight="normal" text-anchor="start" textLength="67.5" lengthAdjust="spacingAndGlyphs">0.000006000</text>
<text x="1094.7" y="383.8" font-size="12" fill="#131722" font-weight="normal" text-anchor="start" textLength="36.5" lengthAdjust="spacingAndGlyphs">100.00</text>
<text x="1094.7" y="443.8" font-size="12" fill="#131722" font-weight="normal" text-anchor="start" textLength="23.3" lengthAdjust="spacingAndGlyphs">0.00</text>
<path d="M1087 130 H1165.7 Q1167.7 130 1167.7 132 V144.8 Q1167.7 146.8 1165.7 146.8 H1087 Z" fill="#f23645"/>
<text stroke="#ffffff" stroke-width="0.45" x="1095" y="142.7" font-size="12" fill="#ffffff" font-weight="normal" text-anchor="start" textLength="67.5" lengthAdjust="spacingAndGlyphs">0.000011282</text>
<path d="M1087 191.1 H1165.7 Q1167.7 191.1 1167.7 193.1 V205.7 Q1167.7 207.7 1165.7 207.7 H1087 Z" fill="#ef5350"/>
<text stroke="#ffffff" stroke-width="0.45" x="1095" y="203.7" font-size="12" fill="#ffffff" font-weight="normal" text-anchor="start" textLength="67.5" lengthAdjust="spacingAndGlyphs">0.000009827</text>
<path d="M1087 211.7 H1165.7 Q1167.7 211.7 1167.7 213.7 V225.3 Q1167.7 227.3 1165.7 227.3 H1087 Z" fill="#089981"/>
<text stroke="#ffffff" stroke-width="0.45" x="1095" y="223.8" font-size="12" fill="#ffffff" font-weight="normal" text-anchor="start" textLength="67.5" lengthAdjust="spacingAndGlyphs">0.000009356</text>
<text x="51.3" y="463.8" font-size="12" fill="#131722" text-anchor="middle" >21</text>
<text x="117.1" y="463.8" font-size="12" fill="#131722" text-anchor="middle" >25</text>
<text x="215.9" y="463.8" font-size="12" fill="#131722" text-anchor="middle" stroke="#131722" stroke-width="0.3">Oct</text>
<text x="281.7" y="463.8" font-size="12" fill="#131722" text-anchor="middle" >5</text>
<text x="347.6" y="463.8" font-size="12" fill="#131722" text-anchor="middle" >9</text>
<text x="413.4" y="463.8" font-size="12" fill="#131722" text-anchor="middle" >13</text>
<text x="479.3" y="463.8" font-size="12" fill="#131722" text-anchor="middle" >17</text>
<text x="545.1" y="463.8" font-size="12" fill="#131722" text-anchor="middle" >21</text>
<text x="610.9" y="463.8" font-size="12" fill="#131722" text-anchor="middle" >25</text>
<text x="726.2" y="463.8" font-size="12" fill="#131722" text-anchor="middle" stroke="#131722" stroke-width="0.3">Nov</text>
<text x="792.0" y="463.8" font-size="12" fill="#131722" text-anchor="middle" >5</text>
<text x="857.8" y="463.8" font-size="12" fill="#131722" text-anchor="middle" >9</text>
<text x="923.7" y="463.8" font-size="12" fill="#131722" text-anchor="middle" >13</text>
<text x="989.5" y="463.8" font-size="12" fill="#131722" text-anchor="middle" >17</text>
<text x="1055.4" y="463.8" font-size="12" fill="#131722" text-anchor="middle" >21</text>
<rect x="1090.5" y="8.5" width="83" height="25" rx="3.5" fill="#ffffff" stroke="#e4e4e6" stroke-width="1"/>
<text x="1094" y="25.2" font-size="13" fill="#131722" textLength="27.8" lengthAdjust="spacingAndGlyphs">USDT</text>
<path d="M1164.4 20.5 L1166.6 22.6 L1168.8 20.5" fill="none" stroke="#131722" stroke-width="1.3" stroke-linecap="round" stroke-linejoin="round"/>
<path d="M1125.2 460.4 L1128.9 454.2 L1136.2 454.2 L1139.9 460.4 L1136.2 466.6 L1128.9 466.6 Z" fill="none" stroke="#131722" stroke-width="1" stroke-linejoin="round"/>
<circle cx="1132.5" cy="460.4" r="2" fill="none" stroke="#131722" stroke-width="1.1"/>
</svg></body></html>
